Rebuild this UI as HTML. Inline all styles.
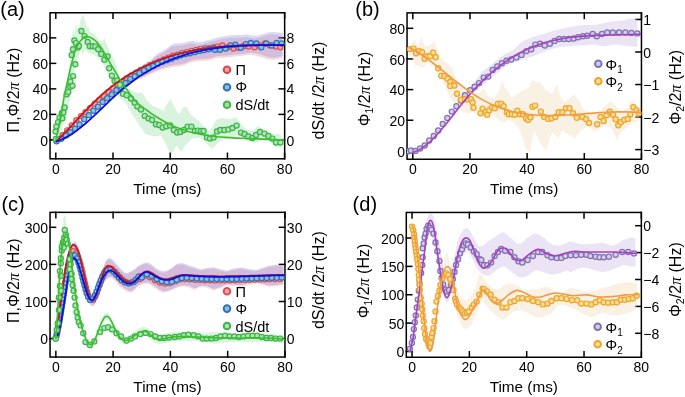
<!DOCTYPE html><html><head><meta charset="utf-8"><style>html,body{margin:0;padding:0;background:#fff;}svg{display:block;will-change:transform}text{font-family:"Liberation Sans", sans-serif;}</style></head><body>
<svg width="685" height="397" viewBox="0 0 685 397">
<g stroke="#000" stroke-width="1.5" stroke-linecap="square" fill="none"><line x1="55.80" y1="158.80" x2="55.80" y2="153.30"/><line x1="55.80" y1="12.77" x2="55.80" y2="18.27"/><line x1="113.01" y1="158.80" x2="113.01" y2="153.30"/><line x1="113.01" y1="12.77" x2="113.01" y2="18.27"/><line x1="170.22" y1="158.80" x2="170.22" y2="153.30"/><line x1="170.22" y1="12.77" x2="170.22" y2="18.27"/><line x1="227.44" y1="158.80" x2="227.44" y2="153.30"/><line x1="227.44" y1="12.77" x2="227.44" y2="18.27"/><line x1="284.65" y1="158.80" x2="284.65" y2="153.30"/><line x1="284.65" y1="12.77" x2="284.65" y2="18.27"/><line x1="50.05" y1="139.90" x2="55.55" y2="139.90"/><line x1="50.05" y1="114.39" x2="55.55" y2="114.39"/><line x1="50.05" y1="88.88" x2="55.55" y2="88.88"/><line x1="50.05" y1="63.37" x2="55.55" y2="63.37"/><line x1="50.05" y1="37.86" x2="55.55" y2="37.86"/><line x1="284.65" y1="139.90" x2="279.15" y2="139.90"/><line x1="284.65" y1="114.39" x2="279.15" y2="114.39"/><line x1="284.65" y1="88.88" x2="279.15" y2="88.88"/><line x1="284.65" y1="63.37" x2="279.15" y2="63.37"/><line x1="284.65" y1="37.86" x2="279.15" y2="37.86"/><rect x="50.05" y="12.77" width="234.60" height="146.03" fill="none"/></g>
<g font-size="14" fill="#000"><text x="55.80" y="173.50" text-anchor="middle">0</text><text x="113.01" y="173.50" text-anchor="middle">20</text><text x="170.22" y="173.50" text-anchor="middle">40</text><text x="227.44" y="173.50" text-anchor="middle">60</text><text x="284.65" y="173.50" text-anchor="middle">80</text><text x="48.05" y="145.50" text-anchor="end">0</text><text x="48.05" y="119.99" text-anchor="end">20</text><text x="48.05" y="94.48" text-anchor="end">40</text><text x="48.05" y="68.97" text-anchor="end">60</text><text x="48.05" y="43.46" text-anchor="end">80</text><text x="286.55" y="145.50">0</text><text x="286.55" y="119.99">2</text><text x="286.55" y="94.48">4</text><text x="286.55" y="68.97">6</text><text x="286.55" y="43.46">8</text></g>
<g stroke="#000" stroke-width="1.5" stroke-linecap="square" fill="none"><line x1="412.80" y1="159.25" x2="412.80" y2="153.75"/><line x1="412.80" y1="12.90" x2="412.80" y2="18.40"/><line x1="469.96" y1="159.25" x2="469.96" y2="153.75"/><line x1="469.96" y1="12.90" x2="469.96" y2="18.40"/><line x1="527.12" y1="159.25" x2="527.12" y2="153.75"/><line x1="527.12" y1="12.90" x2="527.12" y2="18.40"/><line x1="584.29" y1="159.25" x2="584.29" y2="153.75"/><line x1="584.29" y1="12.90" x2="584.29" y2="18.40"/><line x1="641.45" y1="159.25" x2="641.45" y2="153.75"/><line x1="641.45" y1="12.90" x2="641.45" y2="18.40"/><line x1="407.05" y1="150.90" x2="412.55" y2="150.90"/><line x1="407.05" y1="120.25" x2="412.55" y2="120.25"/><line x1="407.05" y1="89.60" x2="412.55" y2="89.60"/><line x1="407.05" y1="58.95" x2="412.55" y2="58.95"/><line x1="407.05" y1="28.30" x2="412.55" y2="28.30"/><line x1="641.45" y1="19.47" x2="635.95" y2="19.47"/><line x1="641.45" y1="52.00" x2="635.95" y2="52.00"/><line x1="641.45" y1="84.53" x2="635.95" y2="84.53"/><line x1="641.45" y1="117.06" x2="635.95" y2="117.06"/><line x1="641.45" y1="149.59" x2="635.95" y2="149.59"/><rect x="407.05" y="12.90" width="234.40" height="146.35" fill="none"/></g>
<g font-size="14" fill="#000"><text x="412.80" y="173.95" text-anchor="middle">0</text><text x="469.96" y="173.95" text-anchor="middle">20</text><text x="527.12" y="173.95" text-anchor="middle">40</text><text x="584.29" y="173.95" text-anchor="middle">60</text><text x="641.45" y="173.95" text-anchor="middle">80</text><text x="405.05" y="156.50" text-anchor="end">0</text><text x="405.05" y="125.85" text-anchor="end">20</text><text x="405.05" y="95.20" text-anchor="end">40</text><text x="405.05" y="64.55" text-anchor="end">60</text><text x="405.05" y="33.90" text-anchor="end">80</text><text x="643.35" y="25.07">1</text><text x="643.35" y="57.60">0</text><text x="643.35" y="90.13">−1</text><text x="643.35" y="122.66">−2</text><text x="643.35" y="155.19">−3</text></g>
<g stroke="#000" stroke-width="1.5" stroke-linecap="square" fill="none"><line x1="55.85" y1="357.05" x2="55.85" y2="351.55"/><line x1="55.85" y1="212.35" x2="55.85" y2="217.85"/><line x1="113.12" y1="357.05" x2="113.12" y2="351.55"/><line x1="113.12" y1="212.35" x2="113.12" y2="217.85"/><line x1="170.40" y1="357.05" x2="170.40" y2="351.55"/><line x1="170.40" y1="212.35" x2="170.40" y2="217.85"/><line x1="227.67" y1="357.05" x2="227.67" y2="351.55"/><line x1="227.67" y1="212.35" x2="227.67" y2="217.85"/><line x1="284.95" y1="357.05" x2="284.95" y2="351.55"/><line x1="284.95" y1="212.35" x2="284.95" y2="217.85"/><line x1="50.05" y1="338.60" x2="55.55" y2="338.60"/><line x1="50.05" y1="301.50" x2="55.55" y2="301.50"/><line x1="50.05" y1="264.40" x2="55.55" y2="264.40"/><line x1="50.05" y1="227.30" x2="55.55" y2="227.30"/><line x1="284.95" y1="338.60" x2="279.45" y2="338.60"/><line x1="284.95" y1="301.50" x2="279.45" y2="301.50"/><line x1="284.95" y1="264.40" x2="279.45" y2="264.40"/><line x1="284.95" y1="227.30" x2="279.45" y2="227.30"/><rect x="50.05" y="212.35" width="234.90" height="144.70" fill="none"/></g>
<g font-size="14" fill="#000"><text x="55.85" y="371.75" text-anchor="middle">0</text><text x="113.12" y="371.75" text-anchor="middle">20</text><text x="170.40" y="371.75" text-anchor="middle">40</text><text x="227.67" y="371.75" text-anchor="middle">60</text><text x="284.95" y="371.75" text-anchor="middle">80</text><text x="48.05" y="344.20" text-anchor="end">0</text><text x="48.05" y="307.10" text-anchor="end">100</text><text x="48.05" y="270.00" text-anchor="end">200</text><text x="48.05" y="232.90" text-anchor="end">300</text><text x="286.85" y="344.20">0</text><text x="286.85" y="307.10">10</text><text x="286.85" y="270.00">20</text><text x="286.85" y="232.90">30</text></g>
<g stroke="#000" stroke-width="1.5" stroke-linecap="square" fill="none"><line x1="412.05" y1="357.25" x2="412.05" y2="351.75"/><line x1="412.05" y1="212.45" x2="412.05" y2="217.95"/><line x1="469.38" y1="357.25" x2="469.38" y2="351.75"/><line x1="469.38" y1="212.45" x2="469.38" y2="217.95"/><line x1="526.70" y1="357.25" x2="526.70" y2="351.75"/><line x1="526.70" y1="212.45" x2="526.70" y2="217.95"/><line x1="584.02" y1="357.25" x2="584.02" y2="351.75"/><line x1="584.02" y1="212.45" x2="584.02" y2="217.95"/><line x1="641.35" y1="357.25" x2="641.35" y2="351.75"/><line x1="641.35" y1="212.45" x2="641.35" y2="217.95"/><line x1="406.30" y1="351.50" x2="411.80" y2="351.50"/><line x1="406.30" y1="323.12" x2="411.80" y2="323.12"/><line x1="406.30" y1="294.75" x2="411.80" y2="294.75"/><line x1="406.30" y1="266.38" x2="411.80" y2="266.38"/><line x1="406.30" y1="238.00" x2="411.80" y2="238.00"/><line x1="641.35" y1="225.70" x2="635.85" y2="225.70"/><line x1="641.35" y1="252.60" x2="635.85" y2="252.60"/><line x1="641.35" y1="279.50" x2="635.85" y2="279.50"/><line x1="641.35" y1="306.40" x2="635.85" y2="306.40"/><line x1="641.35" y1="333.30" x2="635.85" y2="333.30"/><rect x="406.30" y="212.45" width="235.05" height="144.80" fill="none"/></g>
<g font-size="14" fill="#000"><text x="412.05" y="371.95" text-anchor="middle">0</text><text x="469.38" y="371.95" text-anchor="middle">20</text><text x="526.70" y="371.95" text-anchor="middle">40</text><text x="584.02" y="371.95" text-anchor="middle">60</text><text x="641.35" y="371.95" text-anchor="middle">80</text><text x="404.30" y="357.10" text-anchor="end">0</text><text x="404.30" y="328.73" text-anchor="end">50</text><text x="404.30" y="300.35" text-anchor="end">100</text><text x="404.30" y="271.98" text-anchor="end">150</text><text x="404.30" y="243.60" text-anchor="end">200</text><text x="643.25" y="231.30">0</text><text x="643.25" y="258.20">−2</text><text x="643.25" y="285.10">−4</text><text x="643.25" y="312.00">−6</text><text x="643.25" y="338.90">−8</text></g>
<text x="167.35" y="193.70" text-anchor="middle" font-size="15.3">Time (ms)</text>
<text x="524.25" y="194.15" text-anchor="middle" font-size="15.3">Time (ms)</text>
<text x="167.50" y="391.95" text-anchor="middle" font-size="15.3">Time (ms)</text>
<text x="523.83" y="392.15" text-anchor="middle" font-size="15.3">Time (ms)</text>
<text transform="translate(19.0,90) rotate(-90)" text-anchor="middle" font-size="16">Π,Φ/2<tspan font-family="Liberation Serif" font-style="italic">π</tspan> (Hz)</text>
<text transform="translate(324.0,90.5) rotate(-90)" text-anchor="middle" font-size="16">dS/dt /2<tspan font-family="Liberation Serif" font-style="italic">π</tspan> (Hz)</text>
<text transform="translate(369.5,89) rotate(-90)" text-anchor="middle" font-size="16">Φ<tspan font-size="10.5" dy="3.2">1</tspan><tspan dy="-3.2">/2</tspan><tspan font-family="Liberation Serif" font-style="italic">π</tspan><tspan> (Hz)</tspan></text>
<text transform="translate(680.6,87.3) rotate(-90)" text-anchor="middle" font-size="16">Φ<tspan font-size="10.5" dy="3.2">2</tspan><tspan dy="-3.2">/2</tspan><tspan font-family="Liberation Serif" font-style="italic">π</tspan><tspan> (Hz)</tspan></text>
<text transform="translate(18.7,280.7) rotate(-90)" text-anchor="middle" font-size="16">Π,Φ/2<tspan font-family="Liberation Serif" font-style="italic">π</tspan> (Hz)</text>
<text transform="translate(324.0,280.2) rotate(-90)" text-anchor="middle" font-size="16">dS/dt /2<tspan font-family="Liberation Serif" font-style="italic">π</tspan> (Hz)</text>
<text transform="translate(369.2,281) rotate(-90)" text-anchor="middle" font-size="16">Φ<tspan font-size="10.5" dy="3.2">1</tspan><tspan dy="-3.2">/2</tspan><tspan font-family="Liberation Serif" font-style="italic">π</tspan><tspan> (Hz)</tspan></text>
<text transform="translate(680.8,279.6) rotate(-90)" text-anchor="middle" font-size="16">Φ<tspan font-size="10.5" dy="3.2">2</tspan><tspan dy="-3.2">/2</tspan><tspan font-family="Liberation Serif" font-style="italic">π</tspan><tspan> (Hz)</tspan></text>
<text x="0.3" y="16.0" font-size="20">(a)</text>
<text x="355.3" y="16.0" font-size="20">(b)</text>
<text x="1.4" y="211.2" font-size="20">(c)</text>
<text x="352.6" y="211.2" font-size="20">(d)</text>
<clipPath id="ca"><rect x="50.05" y="12.77" width="234.6" height="146.03"/></clipPath>
<g clip-path="url(#ca)">
<path d="M55.80,132.00 L58.00,124.00 L60.00,112.00 L62.00,104.00 L64.00,92.00 L66.00,82.00 L68.00,74.00 L70.00,60.00 L71.50,40.00 L73.20,28.00 L74.50,34.00 L76.20,23.00 L77.50,30.00 L79.00,26.00 L80.50,20.00 L83.00,14.50 L85.00,20.00 L86.80,28.00 L88.50,26.00 L90.00,32.00 L93.00,33.00 L95.80,36.00 L99.00,40.00 L102.00,42.00 L104.50,38.00 L107.00,45.00 L110.00,52.00 L113.00,57.00 L116.00,64.00 L119.00,74.00 L123.30,87.70 L128.00,88.00 L132.20,91.10 L138.80,93.30 L142.20,92.20 L146.60,99.90 L152.10,105.50 L157.70,107.70 L163.20,111.00 L167.60,103.30 L170.30,98.80 L174.30,106.60 L178.70,114.30 L183.20,107.70 L186.50,106.60 L189.80,113.20 L194.30,117.70 L198.70,121.00 L203.10,125.40 L208.70,131.00 L212.00,128.00 L216.00,120.00 L222.00,118.00 L230.00,119.00 L236.00,117.00 L240.00,123.00 L246.00,129.00 L252.00,131.00 L258.00,126.00 L264.00,130.00 L270.00,133.00 L278.00,134.00 L281.00,135.00 L281.00,149.00 L274.00,145.00 L268.00,141.00 L262.00,140.00 L256.00,143.00 L250.00,142.00 L244.00,139.00 L238.00,135.00 L230.00,138.00 L224.00,139.00 L218.00,143.00 L212.00,149.00 L206.00,143.00 L200.00,138.00 L192.00,138.50 L185.40,145.40 L181.00,152.00 L176.50,145.40 L171.00,155.40 L166.50,145.40 L161.00,135.40 L154.30,136.50 L145.50,134.30 L141.00,127.60 L136.60,121.00 L132.20,114.30 L127.00,105.00 L123.30,101.00 L120.00,98.00 L116.00,92.00 L112.00,82.00 L108.00,74.00 L104.00,66.00 L100.00,60.00 L96.00,56.00 L92.00,54.00 L88.00,53.00 L85.00,49.00 L83.00,55.00 L81.00,50.00 L79.00,55.00 L77.00,60.00 L75.00,68.00 L73.00,80.00 L71.00,95.00 L68.00,110.00 L64.00,122.00 L60.00,135.00 L57.00,141.00 L55.80,141.00Z" fill="rgb(80,200,110)" fill-opacity="0.22"/>
<path d="M140.00,69.50C140.83,68.83 143.33,66.67 145.00,65.50C146.67,64.33 148.17,64.00 150.00,62.50C151.83,61.00 153.50,58.33 156.00,56.50C158.50,54.67 162.33,53.17 165.00,51.50C167.67,49.83 169.33,47.50 172.00,46.50C174.67,45.50 177.83,46.00 181.00,45.50C184.17,45.00 188.00,43.67 191.00,43.50C194.00,43.33 196.17,44.67 199.00,44.50C201.83,44.33 205.00,43.23 208.00,42.50C211.00,41.77 213.83,40.82 217.00,40.10C220.17,39.38 223.17,38.62 227.00,38.20C230.83,37.78 236.83,37.80 240.00,37.60C243.17,37.40 243.33,36.90 246.00,37.00C248.67,37.10 252.50,38.52 256.00,38.20C259.50,37.88 264.00,35.72 267.00,35.10C270.00,34.48 271.50,34.38 274.00,34.50C276.50,34.62 280.67,35.58 282.00,35.80L282.00,58.00C280.33,58.30 275.33,59.90 272.00,59.80C268.67,59.70 265.33,58.22 262.00,57.40C258.67,56.58 255.67,55.12 252.00,54.90C248.33,54.68 244.17,55.68 240.00,56.10C235.83,56.52 230.83,57.08 227.00,57.40C223.17,57.72 220.17,57.48 217.00,58.00C213.83,58.52 211.00,59.98 208.00,60.50C205.00,61.02 201.83,60.78 199.00,61.10C196.17,61.42 194.00,61.57 191.00,62.40C188.00,63.23 184.17,65.28 181.00,66.10C177.83,66.92 175.17,66.68 172.00,67.30C168.83,67.92 165.67,68.57 162.00,69.80C158.33,71.03 153.67,73.08 150.00,74.70C146.33,76.32 141.67,78.70 140.00,79.50Z" fill="rgb(230,120,120)" fill-opacity="0.28"/>
<path d="M141.00,67.00C141.83,66.33 144.33,64.17 146.00,63.00C147.67,61.83 149.17,61.50 151.00,60.00C152.83,58.50 154.50,55.83 157.00,54.00C159.50,52.17 163.33,50.67 166.00,49.00C168.67,47.33 170.33,45.00 173.00,44.00C175.67,43.00 178.83,43.50 182.00,43.00C185.17,42.50 189.00,41.17 192.00,41.00C195.00,40.83 197.17,42.17 200.00,42.00C202.83,41.83 206.00,40.73 209.00,40.00C212.00,39.27 214.83,38.32 218.00,37.60C221.17,36.88 224.17,36.12 228.00,35.70C231.83,35.28 237.83,35.30 241.00,35.10C244.17,34.90 244.33,34.40 247.00,34.50C249.67,34.60 253.50,36.02 257.00,35.70C260.50,35.38 265.00,33.22 268.00,32.60C271.00,31.98 272.50,31.88 275.00,32.00C277.50,32.12 281.67,33.08 283.00,33.30L283.00,56.00C281.33,56.30 276.33,57.90 273.00,57.80C269.67,57.70 266.33,56.22 263.00,55.40C259.67,54.58 256.67,53.12 253.00,52.90C249.33,52.68 245.17,53.68 241.00,54.10C236.83,54.52 231.83,55.08 228.00,55.40C224.17,55.72 221.17,55.48 218.00,56.00C214.83,56.52 212.00,57.98 209.00,58.50C206.00,59.02 202.83,58.78 200.00,59.10C197.17,59.42 195.00,59.57 192.00,60.40C189.00,61.23 185.17,63.28 182.00,64.10C178.83,64.92 176.17,64.68 173.00,65.30C169.83,65.92 166.67,66.57 163.00,67.80C159.33,69.03 154.67,71.08 151.00,72.70C147.33,74.32 142.67,76.70 141.00,77.50Z" fill="rgb(120,120,230)" fill-opacity="0.28"/>
<g stroke="rgb(220,80,85)" stroke-width="1.2" fill="rgb(242,165,168)"><circle cx="58.00" cy="139.34" r="2.6"/><circle cx="62.60" cy="135.20" r="2.6"/><circle cx="67.20" cy="130.36" r="2.6"/><circle cx="71.80" cy="125.33" r="2.6"/><circle cx="76.40" cy="120.28" r="2.6"/><circle cx="81.00" cy="116.10" r="2.6"/><circle cx="85.60" cy="112.29" r="2.6"/><circle cx="90.20" cy="107.84" r="2.6"/><circle cx="94.80" cy="103.74" r="2.6"/><circle cx="99.40" cy="99.89" r="2.6"/><circle cx="104.00" cy="96.09" r="2.6"/><circle cx="108.60" cy="92.01" r="2.6"/><circle cx="113.20" cy="88.16" r="2.6"/><circle cx="117.80" cy="84.79" r="2.6"/><circle cx="122.40" cy="81.63" r="2.6"/><circle cx="127.00" cy="78.29" r="2.6"/><circle cx="131.60" cy="75.34" r="2.6"/><circle cx="136.20" cy="72.82" r="2.6"/><circle cx="140.80" cy="69.88" r="2.6"/><circle cx="145.40" cy="67.72" r="2.6"/><circle cx="150.00" cy="65.28" r="2.6"/><circle cx="154.60" cy="63.37" r="2.6"/><circle cx="159.20" cy="61.35" r="2.6"/><circle cx="163.80" cy="59.39" r="2.6"/><circle cx="168.40" cy="57.60" r="2.6"/><circle cx="173.00" cy="55.78" r="2.6"/><circle cx="177.60" cy="54.63" r="2.6"/><circle cx="182.20" cy="53.10" r="2.6"/><circle cx="186.80" cy="52.12" r="2.6"/><circle cx="191.40" cy="50.87" r="2.6"/><circle cx="196.00" cy="50.00" r="2.6"/><circle cx="200.60" cy="48.86" r="2.6"/><circle cx="205.20" cy="48.30" r="2.6"/><circle cx="209.80" cy="48.26" r="2.6"/><circle cx="214.40" cy="47.13" r="2.6"/><circle cx="217.50" cy="46.60" r="2.6"/><circle cx="222.40" cy="45.40" r="2.6"/><circle cx="228.00" cy="47.20" r="2.6"/><circle cx="233.50" cy="48.50" r="2.6"/><circle cx="238.50" cy="47.80" r="2.6"/><circle cx="243.40" cy="46.00" r="2.6"/><circle cx="248.30" cy="46.60" r="2.6"/><circle cx="254.50" cy="47.20" r="2.6"/><circle cx="259.40" cy="45.40" r="2.6"/><circle cx="265.00" cy="43.50" r="2.6"/><circle cx="269.90" cy="45.40" r="2.6"/><circle cx="275.50" cy="46.60" r="2.6"/><circle cx="280.40" cy="47.20" r="2.6"/></g>
<g stroke="rgb(50,115,180)" stroke-width="1.2" fill="rgb(140,190,225)"><circle cx="56.60" cy="141.19" r="2.6"/><circle cx="61.20" cy="138.75" r="2.6"/><circle cx="65.80" cy="135.39" r="2.6"/><circle cx="70.40" cy="132.28" r="2.6"/><circle cx="75.00" cy="128.74" r="2.6"/><circle cx="79.60" cy="124.40" r="2.6"/><circle cx="84.20" cy="119.13" r="2.6"/><circle cx="88.80" cy="115.13" r="2.6"/><circle cx="93.40" cy="110.80" r="2.6"/><circle cx="98.00" cy="106.77" r="2.6"/><circle cx="102.60" cy="102.04" r="2.6"/><circle cx="107.20" cy="98.21" r="2.6"/><circle cx="111.80" cy="94.40" r="2.6"/><circle cx="116.40" cy="90.26" r="2.6"/><circle cx="121.00" cy="86.79" r="2.6"/><circle cx="125.60" cy="83.03" r="2.6"/><circle cx="130.20" cy="79.10" r="2.6"/><circle cx="134.80" cy="76.27" r="2.6"/><circle cx="139.40" cy="73.03" r="2.6"/><circle cx="144.00" cy="70.37" r="2.6"/><circle cx="148.60" cy="67.77" r="2.6"/><circle cx="153.20" cy="66.03" r="2.6"/><circle cx="157.80" cy="63.86" r="2.6"/><circle cx="162.40" cy="61.71" r="2.6"/><circle cx="167.00" cy="60.26" r="2.6"/><circle cx="171.60" cy="58.81" r="2.6"/><circle cx="176.20" cy="56.83" r="2.6"/><circle cx="180.80" cy="55.31" r="2.6"/><circle cx="185.40" cy="54.12" r="2.6"/><circle cx="190.00" cy="53.28" r="2.6"/><circle cx="194.60" cy="52.16" r="2.6"/><circle cx="199.20" cy="50.89" r="2.6"/><circle cx="203.80" cy="50.16" r="2.6"/><circle cx="208.40" cy="49.31" r="2.6"/><circle cx="213.00" cy="48.24" r="2.6"/><circle cx="215.00" cy="49.70" r="2.6"/><circle cx="220.00" cy="49.70" r="2.6"/><circle cx="225.50" cy="48.50" r="2.6"/><circle cx="230.40" cy="45.40" r="2.6"/><circle cx="235.40" cy="44.80" r="2.6"/><circle cx="240.90" cy="47.80" r="2.6"/><circle cx="245.90" cy="44.10" r="2.6"/><circle cx="250.80" cy="42.90" r="2.6"/><circle cx="256.40" cy="43.50" r="2.6"/><circle cx="261.30" cy="47.20" r="2.6"/><circle cx="266.20" cy="43.50" r="2.6"/><circle cx="271.80" cy="45.40" r="2.6"/><circle cx="276.70" cy="42.90" r="2.6"/><circle cx="281.70" cy="43.50" r="2.6"/></g>
<g stroke="rgb(60,180,70)" stroke-width="1.2" fill="rgb(170,228,178)"><circle cx="55.80" cy="139.00" r="2.6"/><circle cx="55.60" cy="131.50" r="2.6"/><circle cx="56.40" cy="126.40" r="2.6"/><circle cx="58.10" cy="122.10" r="2.6"/><circle cx="59.60" cy="117.40" r="2.6"/><circle cx="62.40" cy="118.20" r="2.6"/><circle cx="61.80" cy="113.10" r="2.6"/><circle cx="63.30" cy="112.50" r="2.6"/><circle cx="64.60" cy="107.50" r="2.6"/><circle cx="66.70" cy="94.30" r="2.6"/><circle cx="68.20" cy="92.10" r="2.6"/><circle cx="70.30" cy="86.80" r="2.6"/><circle cx="72.50" cy="85.70" r="2.6"/><circle cx="70.30" cy="81.40" r="2.6"/><circle cx="73.10" cy="76.10" r="2.6"/><circle cx="75.30" cy="64.30" r="2.6"/><circle cx="71.60" cy="55.10" r="2.6"/><circle cx="73.00" cy="49.20" r="2.6"/><circle cx="74.40" cy="40.50" r="2.6"/><circle cx="76.00" cy="43.10" r="2.6"/><circle cx="77.80" cy="47.50" r="2.6"/><circle cx="78.90" cy="46.00" r="2.6"/><circle cx="81.40" cy="31.00" r="2.6"/><circle cx="84.60" cy="36.10" r="2.6"/><circle cx="87.70" cy="41.90" r="2.6"/><circle cx="89.80" cy="46.30" r="2.6"/><circle cx="92.70" cy="46.30" r="2.6"/><circle cx="95.30" cy="46.60" r="2.6"/><circle cx="98.20" cy="49.20" r="2.6"/><circle cx="101.20" cy="53.90" r="2.6"/><circle cx="104.40" cy="59.80" r="2.6"/><circle cx="107.50" cy="56.50" r="2.6"/><circle cx="109.20" cy="68.20" r="2.6"/><circle cx="111.90" cy="75.80" r="2.6"/><circle cx="114.60" cy="81.00" r="2.6"/><circle cx="117.20" cy="80.50" r="2.6"/><circle cx="119.90" cy="84.80" r="2.6"/><circle cx="123.00" cy="93.70" r="2.6"/><circle cx="126.70" cy="95.30" r="2.6"/><circle cx="131.00" cy="98.50" r="2.6"/><circle cx="134.70" cy="102.70" r="2.6"/><circle cx="137.30" cy="106.60" r="2.6"/><circle cx="141.00" cy="109.60" r="2.6"/><circle cx="144.80" cy="115.90" r="2.6"/><circle cx="148.60" cy="118.40" r="2.6"/><circle cx="152.10" cy="120.00" r="2.6"/><circle cx="155.90" cy="124.20" r="2.6"/><circle cx="159.30" cy="125.00" r="2.6"/><circle cx="162.60" cy="127.60" r="2.6"/><circle cx="166.30" cy="126.20" r="2.6"/><circle cx="170.10" cy="125.40" r="2.6"/><circle cx="173.80" cy="130.00" r="2.6"/><circle cx="177.20" cy="132.60" r="2.6"/><circle cx="180.40" cy="132.00" r="2.6"/><circle cx="184.00" cy="130.00" r="2.6"/><circle cx="187.60" cy="126.60" r="2.6"/><circle cx="191.40" cy="126.60" r="2.6"/><circle cx="195.00" cy="131.00" r="2.6"/><circle cx="198.00" cy="130.60" r="2.6"/><circle cx="201.00" cy="131.00" r="2.6"/><circle cx="203.60" cy="131.00" r="2.6"/><circle cx="207.00" cy="137.40" r="2.6"/><circle cx="210.00" cy="138.60" r="2.6"/><circle cx="213.60" cy="137.40" r="2.6"/><circle cx="217.00" cy="131.40" r="2.6"/><circle cx="220.40" cy="130.00" r="2.6"/><circle cx="224.40" cy="130.00" r="2.6"/><circle cx="228.40" cy="129.40" r="2.6"/><circle cx="232.40" cy="128.00" r="2.6"/><circle cx="236.60" cy="125.60" r="2.6"/><circle cx="241.00" cy="132.60" r="2.6"/><circle cx="244.60" cy="134.00" r="2.6"/><circle cx="248.40" cy="136.40" r="2.6"/><circle cx="252.40" cy="138.00" r="2.6"/><circle cx="256.00" cy="135.00" r="2.6"/><circle cx="260.00" cy="132.00" r="2.6"/><circle cx="264.40" cy="133.60" r="2.6"/><circle cx="268.40" cy="136.00" r="2.6"/><circle cx="272.40" cy="138.60" r="2.6"/><circle cx="276.00" cy="142.60" r="2.6"/><circle cx="280.40" cy="142.60" r="2.6"/></g>
<path d="M55.80,141.78C56.78,140.82 59.71,137.99 61.67,136.02C63.62,134.05 65.58,132.01 67.53,129.96C69.49,127.91 71.44,125.81 73.40,123.72C75.36,121.63 77.31,119.52 79.27,117.43C81.22,115.34 83.18,113.23 85.13,111.18C87.09,109.13 89.04,107.08 91.00,105.11C92.96,103.13 94.91,101.18 96.87,99.31C98.82,97.44 100.78,95.64 102.73,93.91C104.69,92.18 106.64,90.53 108.60,88.94C110.56,87.35 112.51,85.84 114.47,84.39C116.42,82.93 118.38,81.54 120.33,80.21C122.29,78.88 124.24,77.61 126.20,76.38C128.16,75.16 130.11,74.00 132.07,72.87C134.02,71.75 135.98,70.68 137.93,69.65C139.89,68.62 141.84,67.64 143.80,66.69C145.76,65.75 147.71,64.84 149.67,63.98C151.62,63.12 153.58,62.29 155.53,61.50C157.49,60.72 159.44,59.97 161.40,59.25C163.36,58.54 165.31,57.86 167.27,57.22C169.22,56.58 171.18,55.97 173.13,55.39C175.09,54.81 177.04,54.27 179.00,53.75C180.96,53.24 182.91,52.75 184.87,52.30C186.82,51.84 188.78,51.41 190.73,51.01C192.69,50.61 194.64,50.24 196.60,49.89C198.56,49.54 200.51,49.21 202.47,48.91C204.42,48.61 206.38,48.33 208.33,48.08C210.29,47.82 212.24,47.58 214.20,47.37C216.16,47.15 218.11,46.95 220.07,46.77C222.02,46.59 223.98,46.43 225.93,46.29C227.89,46.14 229.84,46.01 231.80,45.89C233.76,45.77 235.71,45.67 237.67,45.58C239.62,45.49 241.58,45.41 243.53,45.34C245.49,45.28 247.44,45.22 249.40,45.17C251.36,45.12 253.31,45.08 255.27,45.04C257.22,45.01 259.18,44.98 261.13,44.96C263.09,44.93 265.04,44.92 267.00,44.90C268.96,44.88 270.91,44.87 272.87,44.86C274.82,44.85 276.78,44.84 278.73,44.83C280.69,44.81 283.62,44.80 284.60,44.79" stroke="rgb(195,25,25)" stroke-width="1.8" fill="none"/>
<path d="M55.80,141.53C56.78,141.19 59.71,140.34 61.67,139.52C63.62,138.70 65.58,137.71 67.53,136.62C69.49,135.52 71.44,134.27 73.40,132.94C75.36,131.61 77.31,130.15 79.27,128.62C81.22,127.10 83.18,125.47 85.13,123.79C87.09,122.12 89.04,120.36 91.00,118.58C92.96,116.79 94.91,114.95 96.87,113.10C98.82,111.25 100.78,109.36 102.73,107.49C104.69,105.62 106.64,103.73 108.60,101.88C110.56,100.03 112.51,98.18 114.47,96.39C116.42,94.60 118.38,92.84 120.33,91.16C122.29,89.47 124.24,87.84 126.20,86.27C128.16,84.70 130.11,83.20 132.07,81.74C134.02,80.29 135.98,78.90 137.93,77.56C139.89,76.22 141.84,74.94 143.80,73.71C145.76,72.48 147.71,71.30 149.67,70.17C151.62,69.05 153.58,67.97 155.53,66.94C157.49,65.91 159.44,64.94 161.40,64.00C163.36,63.07 165.31,62.18 167.27,61.34C169.22,60.49 171.18,59.69 173.13,58.93C175.09,58.17 177.04,57.46 179.00,56.78C180.96,56.10 182.91,55.46 184.87,54.86C186.82,54.26 188.78,53.69 190.73,53.16C192.69,52.63 194.64,52.14 196.60,51.68C198.56,51.21 200.51,50.78 202.47,50.38C204.42,49.98 206.38,49.61 208.33,49.27C210.29,48.93 212.24,48.61 214.20,48.33C216.16,48.04 218.11,47.78 220.07,47.54C222.02,47.30 223.98,47.08 225.93,46.89C227.89,46.69 229.84,46.52 231.80,46.36C233.76,46.21 235.71,46.07 237.67,45.95C239.62,45.83 241.58,45.73 243.53,45.64C245.49,45.55 247.44,45.48 249.40,45.42C251.36,45.36 253.31,45.31 255.27,45.27C257.22,45.23 259.18,45.20 261.13,45.18C263.09,45.15 265.04,45.14 267.00,45.13C268.96,45.12 270.91,45.12 272.87,45.12C274.82,45.11 276.78,45.12 278.73,45.12C280.69,45.12 283.62,45.13 284.60,45.13" stroke="rgb(15,15,225)" stroke-width="1.8" fill="none"/>
<path d="M55.80,139.90C56.52,136.65 58.72,127.55 60.10,120.40C61.48,113.25 62.75,103.98 64.10,97.00C65.45,90.02 66.97,84.00 68.20,78.50C69.43,73.00 70.27,68.83 71.50,64.00C72.73,59.17 74.32,53.08 75.60,49.50C76.88,45.92 77.50,44.65 79.20,42.50C80.90,40.35 83.35,37.10 85.80,36.60C88.25,36.10 91.33,37.63 93.90,39.50C96.47,41.37 98.80,44.38 101.20,47.80C103.60,51.22 106.12,56.30 108.30,60.00C110.48,63.70 112.57,67.08 114.30,70.00C116.03,72.92 116.63,74.25 118.70,77.50C120.77,80.75 123.73,85.42 126.70,89.50C129.67,93.58 132.62,98.15 136.50,102.00C140.38,105.85 146.58,110.05 150.00,112.60C153.42,115.15 153.67,115.30 157.00,117.30C160.33,119.30 165.70,122.55 170.00,124.60C174.30,126.65 179.47,128.37 182.80,129.60C186.13,130.83 185.47,130.93 190.00,132.00C194.53,133.07 203.33,135.07 210.00,136.00C216.67,136.93 223.33,137.17 230.00,137.60C236.67,138.03 243.33,138.30 250.00,138.60C256.67,138.90 264.23,139.17 270.00,139.40C275.77,139.63 282.17,139.90 284.60,140.00" stroke="rgb(60,190,45)" stroke-width="1.6" fill="none"/>
</g>
<circle cx="227" cy="69.7" r="3.3" stroke="rgb(215,70,80)" stroke-width="2.0" fill="rgb(240,160,165)"/><text x="235.5" y="74.9" font-size="14.5">Π</text><circle cx="227" cy="87.2" r="3.3" stroke="rgb(50,115,180)" stroke-width="2.0" fill="rgb(140,190,225)"/><text x="235.5" y="92.4" font-size="14.5">Φ</text><circle cx="227" cy="104.7" r="3.3" stroke="rgb(70,180,75)" stroke-width="2.0" fill="rgb(165,220,165)"/><text x="235.5" y="109.9" font-size="14.5">dS/dt</text>
<clipPath id="cb"><rect x="407.05" y="12.9" width="234.4" height="146.35"/></clipPath>
<g clip-path="url(#cb)">
<path d="M408.50,47.00 L411.00,44.00 L413.00,42.00 L415.00,39.00 L417.50,46.00 L419.00,44.00 L421.60,35.50 L424.00,45.00 L426.00,46.00 L428.50,46.00 L431.20,44.00 L434.20,40.60 L437.20,48.70 L439.00,55.00 L441.80,59.30 L446.30,62.30 L452.30,68.40 L456.90,80.50 L461.40,83.50 L467.50,89.50 L473.50,94.10 L479.60,92.60 L484.10,88.00 L488.60,97.10 L494.70,98.60 L499.20,89.50 L502.20,80.50 L505.00,88.00 L508.30,91.00 L511.30,98.60 L515.80,95.60 L520.00,92.10 L524.00,90.00 L528.00,88.00 L532.00,80.00 L536.00,82.00 L540.00,82.00 L546.00,90.00 L552.00,94.00 L557.00,84.00 L560.00,96.00 L564.00,102.00 L570.00,98.00 L574.00,94.00 L580.00,102.00 L584.50,110.00 L592.50,114.00 L600.60,110.00 L606.60,104.00 L611.70,101.00 L614.70,105.00 L620.80,112.00 L626.80,108.00 L631.80,100.00 L635.90,104.00 L639.00,110.00 L639.00,120.30 L634.90,122.30 L628.80,126.30 L620.80,132.40 L616.70,140.50 L612.70,130.40 L606.60,125.30 L600.60,128.40 L594.60,131.40 L586.50,126.30 L580.50,130.40 L574.40,138.40 L568.40,134.40 L562.30,130.40 L558.30,138.40 L552.00,132.40 L546.00,150.50 L540.00,142.50 L534.00,130.40 L530.00,152.50 L526.00,148.50 L520.00,130.40 L515.80,124.30 L509.80,119.80 L503.70,122.80 L497.70,119.80 L491.60,112.20 L485.60,118.20 L479.60,116.70 L473.50,112.20 L467.50,113.70 L461.40,110.70 L455.40,106.20 L449.30,95.60 L443.30,83.50 L440.00,72.00 L437.20,72.90 L434.00,66.00 L431.20,67.30 L428.20,60.20 L425.00,66.00 L421.60,68.30 L418.00,66.00 L415.00,65.30 L411.00,56.20 L408.50,55.00Z" fill="rgb(240,220,185)" fill-opacity="0.38"/>
<path d="M470.00,88.00C471.00,86.67 473.90,82.77 476.00,80.00C478.10,77.23 480.27,73.73 482.60,71.40C484.93,69.07 487.48,68.02 490.00,66.00C492.52,63.98 495.20,61.30 497.70,59.30C500.20,57.30 502.48,55.52 505.00,54.00C507.52,52.48 510.30,51.92 512.80,50.20C515.30,48.48 517.25,45.72 520.00,43.70C522.75,41.68 526.20,39.50 529.30,38.10C532.40,36.70 535.48,36.23 538.60,35.30C541.72,34.37 544.88,33.43 548.00,32.50C551.12,31.57 554.20,30.48 557.30,29.70C560.40,28.92 563.50,28.42 566.60,27.80C569.70,27.18 572.80,26.47 575.90,26.00C579.00,25.53 582.10,25.17 585.20,25.00C588.30,24.83 591.40,25.30 594.50,25.00C597.60,24.70 600.68,23.82 603.80,23.20C606.92,22.58 610.08,21.77 613.20,21.30C616.32,20.83 619.40,20.87 622.50,20.40C625.60,19.93 629.32,18.65 631.80,18.50C634.28,18.35 636.47,19.33 637.40,19.50L637.40,46.50C636.47,46.50 634.28,46.67 631.80,46.50C629.32,46.33 625.60,45.82 622.50,45.50C619.40,45.18 616.32,44.43 613.20,44.60C610.08,44.77 606.92,46.50 603.80,46.50C600.68,46.50 597.60,44.77 594.50,44.60C591.40,44.43 588.30,45.35 585.20,45.50C582.10,45.65 579.00,45.33 575.90,45.50C572.80,45.67 569.70,46.18 566.60,46.50C563.50,46.82 560.40,46.78 557.30,47.40C554.20,48.02 551.12,49.12 548.00,50.20C544.88,51.28 541.72,52.67 538.60,53.90C535.48,55.13 532.40,56.52 529.30,57.60C526.20,58.68 522.75,59.62 520.00,60.40C517.25,61.18 515.30,61.20 512.80,62.30C510.30,63.40 507.52,65.23 505.00,67.00C502.48,68.77 500.20,70.90 497.70,72.90C495.20,74.90 492.52,76.98 490.00,79.00C487.48,81.02 484.93,83.00 482.60,85.00C480.27,87.00 478.10,89.33 476.00,91.00C473.90,92.67 471.00,94.33 470.00,95.00Z" fill="rgb(205,190,232)" fill-opacity="0.42"/>
<g stroke="rgb(128,115,175)" stroke-width="1.2" fill="rgb(212,204,232)"><circle cx="408.50" cy="151.20" r="2.6"/><circle cx="411.00" cy="150.50" r="2.6"/><circle cx="415.50" cy="150.90" r="2.6"/><circle cx="420.10" cy="148.50" r="2.6"/><circle cx="424.70" cy="145.50" r="2.6"/><circle cx="429.20" cy="140.50" r="2.6"/><circle cx="433.80" cy="136.00" r="2.6"/><circle cx="438.20" cy="130.40" r="2.6"/><circle cx="442.70" cy="123.90" r="2.6"/><circle cx="447.30" cy="117.90" r="2.6"/><circle cx="451.80" cy="111.60" r="2.6"/><circle cx="456.40" cy="106.20" r="2.6"/><circle cx="460.90" cy="100.50" r="2.6"/><circle cx="465.00" cy="95.20" r="2.6"/><circle cx="470.10" cy="90.20" r="2.6"/><circle cx="474.60" cy="86.70" r="2.6"/><circle cx="479.10" cy="83.10" r="2.6"/><circle cx="483.70" cy="77.60" r="2.6"/><circle cx="488.20" cy="76.60" r="2.6"/><circle cx="492.70" cy="70.00" r="2.6"/><circle cx="497.30" cy="66.50" r="2.6"/><circle cx="501.90" cy="63.20" r="2.6"/><circle cx="506.50" cy="60.80" r="2.6"/><circle cx="511.20" cy="59.50" r="2.6"/><circle cx="516.40" cy="57.60" r="2.6"/><circle cx="521.50" cy="54.90" r="2.6"/><circle cx="526.50" cy="51.10" r="2.6"/><circle cx="531.20" cy="49.30" r="2.6"/><circle cx="535.30" cy="44.60" r="2.6"/><circle cx="540.10" cy="43.70" r="2.6"/><circle cx="544.80" cy="45.50" r="2.6"/><circle cx="549.80" cy="43.70" r="2.6"/><circle cx="554.50" cy="40.90" r="2.6"/><circle cx="559.10" cy="39.00" r="2.6"/><circle cx="564.00" cy="39.00" r="2.6"/><circle cx="568.80" cy="39.00" r="2.6"/><circle cx="573.70" cy="38.50" r="2.6"/><circle cx="578.10" cy="37.20" r="2.6"/><circle cx="583.00" cy="36.20" r="2.6"/><circle cx="587.40" cy="35.80" r="2.6"/><circle cx="592.70" cy="34.00" r="2.6"/><circle cx="596.80" cy="36.20" r="2.6"/><circle cx="602.00" cy="34.00" r="2.6"/><circle cx="607.20" cy="32.50" r="2.6"/><circle cx="612.80" cy="32.50" r="2.6"/><circle cx="619.10" cy="32.50" r="2.6"/><circle cx="625.30" cy="32.50" r="2.6"/><circle cx="631.40" cy="32.90" r="2.6"/><circle cx="637.40" cy="33.40" r="2.6"/></g>
<g stroke="rgb(238,165,45)" stroke-width="1.2" fill="rgb(250,222,150)"><circle cx="410.00" cy="49.10" r="2.6"/><circle cx="413.60" cy="48.60" r="2.6"/><circle cx="416.10" cy="53.20" r="2.6"/><circle cx="419.10" cy="51.20" r="2.6"/><circle cx="422.10" cy="52.20" r="2.6"/><circle cx="424.60" cy="58.70" r="2.6"/><circle cx="427.70" cy="56.20" r="2.6"/><circle cx="430.20" cy="56.20" r="2.6"/><circle cx="433.20" cy="52.70" r="2.6"/><circle cx="435.70" cy="57.20" r="2.6"/><circle cx="438.20" cy="68.30" r="2.6"/><circle cx="441.30" cy="75.70" r="2.6"/><circle cx="444.50" cy="76.30" r="2.6"/><circle cx="447.50" cy="78.70" r="2.6"/><circle cx="450.30" cy="81.90" r="2.6"/><circle cx="453.80" cy="85.00" r="2.6"/><circle cx="450.30" cy="86.00" r="2.6"/><circle cx="454.40" cy="85.60" r="2.6"/><circle cx="457.00" cy="93.70" r="2.6"/><circle cx="461.00" cy="99.80" r="2.6"/><circle cx="465.00" cy="99.30" r="2.6"/><circle cx="468.00" cy="99.50" r="2.6"/><circle cx="471.10" cy="99.30" r="2.6"/><circle cx="472.60" cy="102.50" r="2.6"/><circle cx="473.50" cy="107.80" r="2.6"/><circle cx="480.60" cy="113.20" r="2.6"/><circle cx="482.60" cy="108.60" r="2.6"/><circle cx="485.60" cy="112.20" r="2.6"/><circle cx="487.20" cy="114.70" r="2.6"/><circle cx="489.20" cy="110.20" r="2.6"/><circle cx="492.10" cy="107.20" r="2.6"/><circle cx="494.70" cy="108.20" r="2.6"/><circle cx="498.00" cy="103.80" r="2.6"/><circle cx="501.30" cy="103.80" r="2.6"/><circle cx="503.70" cy="106.20" r="2.6"/><circle cx="506.80" cy="112.20" r="2.6"/><circle cx="508.80" cy="114.30" r="2.6"/><circle cx="511.80" cy="114.30" r="2.6"/><circle cx="514.80" cy="114.70" r="2.6"/><circle cx="517.40" cy="110.60" r="2.6"/><circle cx="520.00" cy="114.30" r="2.6"/><circle cx="523.00" cy="114.30" r="2.6"/><circle cx="526.00" cy="118.30" r="2.6"/><circle cx="528.10" cy="119.90" r="2.6"/><circle cx="530.50" cy="117.30" r="2.6"/><circle cx="532.50" cy="106.80" r="2.6"/><circle cx="535.10" cy="105.60" r="2.6"/><circle cx="540.80" cy="111.60" r="2.6"/><circle cx="544.20" cy="116.90" r="2.6"/><circle cx="548.20" cy="118.90" r="2.6"/><circle cx="551.60" cy="118.30" r="2.6"/><circle cx="555.30" cy="116.90" r="2.6"/><circle cx="558.70" cy="112.20" r="2.6"/><circle cx="562.30" cy="112.20" r="2.6"/><circle cx="565.90" cy="108.20" r="2.6"/><circle cx="569.40" cy="108.20" r="2.6"/><circle cx="573.00" cy="113.20" r="2.6"/><circle cx="576.80" cy="117.70" r="2.6"/><circle cx="582.50" cy="116.90" r="2.6"/><circle cx="586.10" cy="119.30" r="2.6"/><circle cx="589.10" cy="122.90" r="2.6"/><circle cx="597.20" cy="124.30" r="2.6"/><circle cx="600.60" cy="116.90" r="2.6"/><circle cx="603.60" cy="120.90" r="2.6"/><circle cx="606.60" cy="115.30" r="2.6"/><circle cx="609.70" cy="111.80" r="2.6"/><circle cx="613.10" cy="114.70" r="2.6"/><circle cx="615.70" cy="119.30" r="2.6"/><circle cx="618.30" cy="125.30" r="2.6"/><circle cx="620.80" cy="122.30" r="2.6"/><circle cx="624.20" cy="119.90" r="2.6"/><circle cx="627.80" cy="118.90" r="2.6"/><circle cx="630.40" cy="114.30" r="2.6"/><circle cx="633.30" cy="107.20" r="2.6"/><circle cx="636.50" cy="110.20" r="2.6"/><circle cx="638.90" cy="113.20" r="2.6"/></g>
<path d="M412.80,152.43C413.44,152.20 415.38,151.65 416.67,151.09C417.96,150.53 419.25,149.85 420.54,149.08C421.82,148.31 423.11,147.43 424.40,146.47C425.69,145.51 426.98,144.45 428.27,143.33C429.56,142.20 430.85,140.99 432.14,139.72C433.43,138.45 434.72,137.11 436.01,135.72C437.30,134.34 438.59,132.88 439.87,131.40C441.16,129.91 442.45,128.38 443.74,126.82C445.03,125.26 446.32,123.66 447.61,122.05C448.90,120.45 450.19,118.81 451.48,117.17C452.77,115.54 454.06,113.89 455.35,112.25C456.64,110.61 457.92,108.96 459.21,107.34C460.50,105.72 461.79,104.11 463.08,102.53C464.37,100.95 465.66,99.40 466.95,97.88C468.24,96.35 469.53,94.86 470.82,93.40C472.11,91.94 473.40,90.51 474.68,89.11C475.97,87.71 477.26,86.34 478.55,85.00C479.84,83.66 481.13,82.35 482.42,81.08C483.71,79.80 485.00,78.56 486.29,77.34C487.58,76.13 488.87,74.95 490.16,73.80C491.45,72.65 492.73,71.53 494.02,70.45C495.31,69.36 496.60,68.31 497.89,67.29C499.18,66.27 500.47,65.28 501.76,64.33C503.05,63.37 504.34,62.45 505.63,61.55C506.92,60.66 508.21,59.80 509.49,58.97C510.78,58.13 512.07,57.33 513.36,56.56C514.65,55.78 515.94,55.04 517.23,54.32C518.52,53.60 519.81,52.91 521.10,52.24C522.39,51.58 523.68,50.94 524.97,50.33C526.26,49.71 527.54,49.13 528.83,48.56C530.12,48.00 531.41,47.46 532.70,46.94C533.99,46.43 535.28,45.94 536.57,45.46C537.86,44.99 539.15,44.54 540.44,44.11C541.73,43.69 543.02,43.28 544.31,42.89C545.59,42.50 546.88,42.14 548.17,41.79C549.46,41.44 550.75,41.11 552.04,40.80C553.33,40.48 554.62,40.19 555.91,39.91C557.20,39.63 558.49,39.37 559.78,39.13C561.07,38.88 562.35,38.65 563.64,38.43C564.93,38.22 566.22,38.02 567.51,37.83C568.80,37.64 570.09,37.46 571.38,37.30C572.67,37.14 573.96,36.99 575.25,36.85C576.54,36.71 577.83,36.58 579.12,36.46C580.40,36.34 581.69,36.24 582.98,36.14C584.27,36.04 585.56,35.95 586.85,35.87C588.14,35.79 589.43,35.71 590.72,35.65C592.01,35.58 593.30,35.52 594.59,35.46C595.88,35.41 597.16,35.36 598.45,35.32C599.74,35.27 601.03,35.23 602.32,35.20C603.61,35.16 604.90,35.13 606.19,35.10C607.48,35.07 608.77,35.04 610.06,35.02C611.35,34.99 612.64,34.97 613.93,34.94C615.21,34.92 616.50,34.90 617.79,34.87C619.08,34.85 620.37,34.82 621.66,34.80C622.95,34.77 624.24,34.74 625.53,34.71C626.82,34.68 628.11,34.64 629.40,34.60C630.69,34.57 631.98,34.52 633.26,34.48C634.55,34.43 635.84,34.38 637.13,34.32C638.42,34.26 640.36,34.15 641.00,34.12" stroke="rgb(165,65,195)" stroke-width="1.6" fill="none"/>
<path d="M409.50,47.82C410.15,48.15 412.11,49.08 413.42,49.78C414.73,50.48 416.04,51.23 417.34,52.01C418.65,52.80 419.96,53.63 421.27,54.49C422.57,55.35 423.88,56.25 425.19,57.17C426.50,58.09 427.80,59.05 429.11,60.02C430.42,60.99 431.72,62.00 433.03,63.01C434.34,64.02 435.65,65.05 436.95,66.09C438.26,67.13 439.57,68.19 440.88,69.24C442.18,70.30 443.49,71.36 444.80,72.42C446.11,73.48 447.41,74.54 448.72,75.60C450.03,76.65 451.34,77.71 452.64,78.76C453.95,79.80 455.26,80.84 456.56,81.87C457.87,82.90 459.18,83.91 460.49,84.92C461.79,85.92 463.10,86.91 464.41,87.88C465.72,88.85 467.02,89.80 468.33,90.73C469.64,91.66 470.95,92.57 472.25,93.45C473.56,94.33 474.87,95.19 476.17,96.02C477.48,96.84 478.79,97.64 480.10,98.41C481.40,99.18 482.71,99.91 484.02,100.61C485.33,101.32 486.63,101.99 487.94,102.63C489.25,103.28 490.56,103.89 491.86,104.47C493.17,105.06 494.48,105.61 495.78,106.14C497.09,106.67 498.40,107.17 499.71,107.64C501.01,108.12 502.32,108.57 503.63,108.99C504.94,109.41 506.24,109.81 507.55,110.19C508.86,110.56 510.17,110.91 511.47,111.24C512.78,111.57 514.09,111.88 515.39,112.16C516.70,112.45 518.01,112.71 519.32,112.95C520.62,113.19 521.93,113.42 523.24,113.62C524.55,113.82 525.85,114.01 527.16,114.17C528.47,114.34 529.78,114.49 531.08,114.62C532.39,114.76 533.70,114.87 535.01,114.97C536.31,115.07 537.62,115.16 538.93,115.23C540.23,115.30 541.54,115.35 542.85,115.40C544.16,115.44 545.46,115.47 546.77,115.49C548.08,115.51 549.39,115.51 550.69,115.51C552.00,115.50 553.31,115.49 554.62,115.47C555.92,115.44 557.23,115.41 558.54,115.36C559.84,115.32 561.15,115.27 562.46,115.22C563.77,115.16 565.07,115.09 566.38,115.02C567.69,114.95 569.00,114.88 570.30,114.79C571.61,114.71 572.92,114.63 574.23,114.54C575.53,114.45 576.84,114.36 578.15,114.26C579.45,114.17 580.76,114.07 582.07,113.97C583.38,113.87 584.68,113.77 585.99,113.67C587.30,113.57 588.61,113.47 589.91,113.38C591.22,113.28 592.53,113.18 593.84,113.09C595.14,112.99 596.45,112.90 597.76,112.81C599.06,112.72 600.37,112.64 601.68,112.56C602.99,112.48 604.29,112.40 605.60,112.34C606.91,112.27 608.22,112.20 609.52,112.15C610.83,112.09 612.14,112.04 613.45,112.00C614.75,111.97 616.06,111.93 617.37,111.91C618.68,111.89 619.98,111.88 621.29,111.88C622.60,111.87 623.90,111.88 625.21,111.90C626.52,111.93 627.83,111.96 629.13,112.01C630.44,112.05 631.75,112.11 633.06,112.19C634.36,112.26 635.67,112.35 636.98,112.45C638.29,112.56 640.25,112.75 640.90,112.81" stroke="rgb(240,155,70)" stroke-width="1.6" fill="none"/>
</g>
<circle cx="598.3" cy="63.8" r="3.3" stroke="rgb(128,115,175)" stroke-width="2.0" fill="rgb(212,204,232)"/><text x="605.6" y="69.6" font-size="14.5">Φ<tspan font-size="10" dy="3.5">1</tspan></text><circle cx="598.3" cy="81.3" r="3.3" stroke="rgb(238,165,45)" stroke-width="2.0" fill="rgb(250,222,150)"/><text x="605.6" y="87.1" font-size="14.5">Φ<tspan font-size="10" dy="3.5">2</tspan></text>
<clipPath id="cc"><rect x="50.05" y="212.35" width="234.9" height="144.7"/></clipPath>
<g clip-path="url(#cc)">
<path d="M57.50,328.06 L58.30,321.99 L59.10,315.70 L59.90,309.23 L60.70,302.90 L61.50,296.63 L62.30,290.62 L63.10,284.67 L63.90,279.01 L64.70,273.46 L65.50,268.30 L66.30,263.50 L67.10,259.11 L67.90,255.39 L68.70,252.02 L69.50,249.48 L70.30,247.12 L71.10,245.59 L71.90,244.27 L72.70,243.56 L73.50,243.20 L74.30,243.26 L75.10,243.80 L75.90,244.60 L76.70,245.97 L77.50,247.48 L78.30,249.59 L79.10,251.85 L79.90,254.56 L80.70,257.46 L81.50,260.66 L82.30,264.16 L83.10,267.83 L83.90,271.68 L84.70,275.56 L85.50,279.35 L86.30,283.03 L87.10,286.40 L87.90,289.43 L88.70,292.05 L89.50,294.00 L90.30,295.57 L91.10,296.21 L91.90,296.49 L92.70,295.79 L93.50,294.93 L94.30,293.57 L95.10,292.00 L95.90,290.13 L96.70,288.07 L97.50,285.92 L98.30,283.69 L99.10,281.10 L99.90,278.36 L100.70,275.64 L101.50,272.97 L102.30,270.39 L103.10,267.95 L103.90,265.75 L104.70,263.71 L105.50,262.21 L106.30,260.88 L107.10,260.19 L107.90,259.62 L108.70,259.48 L109.50,259.54 L110.30,259.85 L111.10,260.36 L111.90,260.99 L112.70,261.79 L113.50,262.63 L114.30,263.56 L115.10,264.48 L115.90,265.40 L116.70,266.29 L117.50,267.17 L118.30,268.05 L119.10,268.97 L119.90,269.84 L120.70,270.70 L121.50,271.48 L122.30,272.25 L123.10,272.94 L123.90,273.60 L124.70,274.20 L125.50,274.36 L126.30,274.26 L127.10,274.06 L127.90,273.83 L128.70,273.47 L129.50,273.07 L130.30,272.56 L131.10,272.03 L131.90,271.76 L132.70,271.38 L133.50,270.94 L134.30,270.34 L135.10,269.71 L135.90,268.91 L136.70,268.09 L137.50,267.49 L138.30,267.06 L139.10,266.60 L139.90,266.14 L140.70,265.68 L141.50,265.28 L142.30,264.89 L143.10,264.62 L143.90,264.39 L144.70,264.31 L145.50,264.09 L146.30,264.02 L147.10,264.10 L147.90,264.27 L148.70,264.60 L149.50,264.97 L150.30,265.48 L151.10,266.00 L151.90,266.59 L152.70,267.19 L153.50,267.82 L154.30,268.46 L155.10,269.10 L155.90,269.74 L156.70,270.37 L157.50,270.81 L158.30,271.21 L159.10,271.58 L159.90,271.93 L160.70,272.23 L161.50,272.48 L162.30,272.70 L163.10,272.76 L163.90,272.67 L164.70,272.47 L165.50,272.24 L166.30,271.93 L167.10,271.58 L167.90,271.19 L168.70,270.75 L169.50,270.29 L170.30,269.79 L171.10,269.23 L171.90,268.63 L172.70,268.02 L173.50,267.41 L174.30,266.79 L175.10,266.17 L175.90,265.56 L176.70,265.13 L177.50,265.00 L178.30,264.89 L179.10,264.80 L179.90,264.73 L180.70,264.69 L181.50,264.68 L182.30,264.71 L183.10,264.88 L183.90,265.11 L184.70,265.38 L185.50,265.66 L186.30,265.97 L187.10,266.29 L187.90,266.62 L188.70,266.94 L189.50,267.20 L190.30,267.46 L191.10,267.72 L191.90,267.97 L192.70,268.23 L193.50,268.48 L194.30,268.73 L195.10,268.99 L195.90,269.26 L196.70,269.53 L197.50,269.80 L198.30,270.07 L199.10,270.33 L199.90,270.59 L200.70,270.50 L201.50,270.35 L202.30,270.20 L203.10,270.05 L203.90,269.90 L204.70,269.75 L205.50,269.59 L206.30,269.44 L207.10,269.32 L207.90,269.22 L208.70,269.12 L209.50,269.01 L210.30,268.91 L211.10,268.80 L211.90,268.69 L212.70,268.58 L213.50,268.65 L214.30,268.91 L215.10,269.16 L215.90,269.41 L216.70,269.66 L217.50,269.91 L218.30,270.15 L219.10,270.40 L219.90,270.63 L220.70,270.82 L221.50,271.00 L222.30,271.18 L223.10,271.37 L223.90,271.55 L224.70,271.73 L225.50,271.91 L226.30,272.03 L227.10,271.78 L227.90,271.53 L228.70,271.28 L229.50,271.03 L230.30,270.77 L231.10,270.52 L231.90,270.26 L232.70,270.01 L233.50,269.88 L234.30,269.77 L235.10,269.65 L235.90,269.54 L236.70,269.43 L237.50,269.31 L238.30,269.20 L239.10,269.08 L239.90,268.96 L240.70,268.85 L241.50,268.91 L242.30,269.09 L243.10,269.26 L243.90,269.43 L244.70,269.61 L245.50,269.78 L246.30,269.95 L247.10,270.13 L247.90,270.30 L248.70,270.47 L249.50,270.62 L250.30,270.72 L251.10,270.82 L251.90,270.91 L252.70,271.01 L253.50,271.11 L254.30,271.21 L255.10,271.31 L255.90,271.32 L256.70,271.05 L257.50,270.79 L258.30,270.52 L259.10,270.25 L259.90,269.99 L260.70,269.72 L261.50,269.45 L262.30,269.19 L263.10,268.92 L263.90,268.66 L264.70,268.39 L265.50,268.13 L266.30,267.86 L267.10,267.60 L267.90,267.34 L268.70,267.07 L269.50,266.92 L270.30,266.80 L271.10,266.68 L271.90,266.56 L272.70,266.45 L273.50,266.33 L274.30,266.22 L275.10,266.10 L275.90,265.99 L276.70,265.87 L277.50,265.90 L278.30,266.00 L279.10,266.11 L279.90,266.22 L280.70,266.33 L281.50,266.44 L282.30,266.55 L283.10,266.66 L283.10,285.12 L282.30,285.25 L281.50,285.39 L280.70,285.52 L279.90,285.65 L279.10,285.79 L278.30,285.93 L277.50,286.06 L276.70,286.18 L275.90,286.24 L275.10,286.31 L274.30,286.38 L273.50,286.45 L272.70,286.52 L271.90,286.59 L271.10,286.66 L270.30,286.73 L269.50,286.80 L268.70,286.80 L267.90,286.58 L267.10,286.36 L266.30,286.15 L265.50,285.93 L264.70,285.71 L263.90,285.49 L263.10,285.28 L262.30,285.06 L261.50,284.91 L260.70,284.75 L259.90,284.60 L259.10,284.44 L258.30,284.29 L257.50,284.13 L256.70,283.98 L255.90,283.82 L255.10,283.88 L254.30,284.00 L253.50,284.13 L252.70,284.25 L251.90,284.38 L251.10,284.51 L250.30,284.63 L249.50,284.76 L248.70,284.92 L247.90,285.11 L247.10,285.31 L246.30,285.50 L245.50,285.69 L244.70,285.88 L243.90,286.07 L243.10,286.26 L242.30,286.45 L241.50,286.64 L240.70,286.73 L239.90,286.65 L239.10,286.58 L238.30,286.50 L237.50,286.42 L236.70,286.35 L235.90,286.27 L235.10,286.19 L234.30,286.11 L233.50,286.03 L232.70,285.95 L231.90,285.91 L231.10,285.86 L230.30,285.81 L229.50,285.77 L228.70,285.72 L227.90,285.67 L227.10,285.62 L226.30,285.57 L225.50,285.89 L224.70,286.27 L223.90,286.64 L223.10,287.02 L222.30,287.39 L221.50,287.76 L220.70,288.13 L219.90,288.50 L219.10,288.78 L218.30,289.02 L217.50,289.25 L216.70,289.49 L215.90,289.73 L215.10,289.96 L214.30,290.20 L213.50,290.43 L212.70,290.35 L211.90,289.97 L211.10,289.59 L210.30,289.20 L209.50,288.81 L208.70,288.43 L207.90,288.03 L207.10,287.64 L206.30,287.39 L205.50,287.36 L204.70,287.33 L203.90,287.30 L203.10,287.27 L202.30,287.24 L201.50,287.20 L200.70,287.16 L199.90,287.18 L199.10,287.58 L198.30,287.99 L197.50,288.39 L196.70,288.78 L195.90,289.18 L195.10,289.57 L194.30,289.70 L193.50,289.38 L192.70,289.06 L191.90,288.74 L191.10,288.41 L190.30,288.09 L189.50,287.76 L188.70,287.43 L187.90,287.22 L187.10,287.06 L186.30,286.92 L185.50,286.78 L184.70,286.68 L183.90,286.60 L183.10,286.57 L182.30,286.58 L181.50,286.67 L180.70,286.80 L179.90,286.96 L179.10,287.17 L178.30,287.38 L177.50,287.63 L176.70,287.88 L175.90,288.24 L175.10,288.66 L174.30,289.07 L173.50,289.46 L172.70,289.85 L171.90,290.19 L171.10,290.53 L170.30,290.81 L169.50,291.18 L168.70,291.49 L167.90,291.77 L167.10,292.00 L166.30,292.20 L165.50,292.36 L164.70,292.48 L163.90,292.58 L163.10,292.62 L162.30,292.43 L161.50,292.07 L160.70,291.68 L159.90,291.27 L159.10,290.82 L158.30,290.35 L157.50,289.85 L156.70,289.35 L155.90,288.86 L155.10,288.37 L154.30,287.84 L153.50,287.30 L152.70,286.74 L151.90,286.17 L151.10,285.59 L150.30,285.07 L149.50,284.59 L148.70,284.24 L147.90,283.92 L147.10,283.77 L146.30,283.73 L145.50,283.86 L144.70,284.14 L143.90,284.11 L143.10,284.25 L142.30,284.43 L141.50,284.76 L140.70,285.11 L139.90,285.53 L139.10,285.96 L138.30,286.41 L137.50,286.85 L136.70,287.50 L135.90,288.47 L135.10,289.43 L134.30,290.24 L133.50,291.02 L132.70,291.65 L131.90,292.22 L131.10,292.67 L130.30,292.68 L129.50,292.58 L128.70,292.35 L127.90,292.08 L127.10,291.67 L126.30,291.23 L125.50,290.67 L124.70,290.16 L123.90,289.73 L123.10,289.22 L122.30,288.67 L121.50,288.02 L120.70,287.35 L119.90,286.57 L119.10,285.79 L118.30,284.97 L117.50,284.07 L116.70,283.14 L115.90,282.24 L115.10,281.37 L114.30,280.60 L113.50,279.86 L112.70,279.29 L111.90,278.77 L111.10,278.45 L110.30,278.24 L109.50,278.22 L108.70,278.39 L107.90,278.72 L107.10,279.31 L106.30,279.98 L105.50,280.95 L104.70,281.98 L103.90,283.27 L103.10,284.65 L102.30,286.18 L101.50,287.85 L100.70,289.61 L99.90,291.52 L99.10,293.48 L98.30,295.55 L97.50,297.93 L96.70,300.08 L95.90,302.07 L95.10,303.78 L94.30,305.04 L93.50,306.02 L92.70,306.41 L91.90,306.61 L91.10,306.10 L90.30,305.59 L89.50,304.38 L88.70,302.93 L87.90,301.05 L87.10,298.88 L86.30,296.47 L85.50,293.79 L84.70,291.01 L83.90,288.02 L83.10,285.00 L82.30,281.93 L81.50,278.89 L80.70,275.92 L79.90,273.11 L79.10,270.51 L78.30,268.24 L77.50,266.07 L76.70,264.48 L75.90,263.03 L75.10,262.24 L74.30,261.78 L73.50,261.93 L72.70,262.69 L71.90,263.95 L71.10,266.16 L70.30,268.69 L69.50,272.57 L68.70,276.68 L67.90,281.68 L67.10,286.75 L66.30,291.97 L65.50,297.17 L64.70,302.32 L63.90,307.27 L63.10,312.18 L62.30,316.75 L61.50,321.23 L60.70,325.26 L59.90,329.04 L59.10,332.33 L58.30,335.11 L57.50,337.53Z" fill="rgb(230,120,120)" fill-opacity="0.25"/>
<path d="M58.10,326.66 L58.90,320.59 L59.70,314.30 L60.50,307.83 L61.30,301.50 L62.10,295.23 L62.90,289.22 L63.70,283.27 L64.50,277.61 L65.30,272.06 L66.10,266.90 L66.90,262.10 L67.70,257.71 L68.50,253.99 L69.30,250.62 L70.10,248.08 L70.90,245.72 L71.70,244.19 L72.50,242.87 L73.30,242.16 L74.10,241.80 L74.90,241.86 L75.70,242.40 L76.50,243.20 L77.30,244.57 L78.10,246.08 L78.90,248.19 L79.70,250.45 L80.50,253.16 L81.30,256.06 L82.10,259.26 L82.90,262.76 L83.70,266.43 L84.50,270.28 L85.30,274.16 L86.10,277.95 L86.90,281.63 L87.70,285.00 L88.50,288.03 L89.30,290.65 L90.10,292.60 L90.90,294.17 L91.70,294.81 L92.50,295.09 L93.30,294.39 L94.10,293.53 L94.90,292.17 L95.70,290.60 L96.50,288.73 L97.30,286.67 L98.10,284.52 L98.90,282.29 L99.70,279.70 L100.50,276.96 L101.30,274.24 L102.10,271.57 L102.90,268.99 L103.70,266.55 L104.50,264.35 L105.30,262.31 L106.10,260.81 L106.90,259.48 L107.70,258.79 L108.50,258.22 L109.30,258.08 L110.10,258.14 L110.90,258.45 L111.70,258.96 L112.50,259.59 L113.30,260.39 L114.10,261.23 L114.90,262.16 L115.70,263.08 L116.50,264.00 L117.30,264.89 L118.10,265.77 L118.90,266.65 L119.70,267.57 L120.50,268.44 L121.30,269.30 L122.10,270.08 L122.90,270.85 L123.70,271.54 L124.50,272.20 L125.30,272.80 L126.10,272.96 L126.90,272.86 L127.70,272.66 L128.50,272.43 L129.30,272.07 L130.10,271.67 L130.90,271.16 L131.70,270.63 L132.50,270.36 L133.30,269.98 L134.10,269.54 L134.90,268.94 L135.70,268.31 L136.50,267.51 L137.30,266.69 L138.10,266.09 L138.90,265.66 L139.70,265.20 L140.50,264.74 L141.30,264.28 L142.10,263.88 L142.90,263.49 L143.70,263.22 L144.50,262.99 L145.30,262.91 L146.10,262.69 L146.90,262.62 L147.70,262.70 L148.50,262.87 L149.30,263.20 L150.10,263.57 L150.90,264.08 L151.70,264.60 L152.50,265.19 L153.30,265.79 L154.10,266.42 L154.90,267.06 L155.70,267.70 L156.50,268.34 L157.30,268.97 L158.10,269.41 L158.90,269.81 L159.70,270.18 L160.50,270.53 L161.30,270.83 L162.10,271.08 L162.90,271.30 L163.70,271.36 L164.50,271.27 L165.30,271.07 L166.10,270.84 L166.90,270.53 L167.70,270.18 L168.50,269.79 L169.30,269.35 L170.10,268.89 L170.90,268.39 L171.70,267.83 L172.50,267.23 L173.30,266.62 L174.10,266.01 L174.90,265.39 L175.70,264.77 L176.50,264.16 L177.30,263.73 L178.10,263.60 L178.90,263.49 L179.70,263.40 L180.50,263.33 L181.30,263.29 L182.10,263.28 L182.90,263.31 L183.70,263.48 L184.50,263.71 L185.30,263.98 L186.10,264.26 L186.90,264.57 L187.70,264.89 L188.50,265.22 L189.30,265.54 L190.10,265.80 L190.90,266.06 L191.70,266.32 L192.50,266.57 L193.30,266.83 L194.10,267.08 L194.90,267.33 L195.70,267.59 L196.50,267.86 L197.30,268.13 L198.10,268.40 L198.90,268.67 L199.70,268.93 L200.50,269.19 L201.30,269.10 L202.10,268.95 L202.90,268.80 L203.70,268.65 L204.50,268.50 L205.30,268.35 L206.10,268.19 L206.90,268.04 L207.70,267.92 L208.50,267.82 L209.30,267.72 L210.10,267.61 L210.90,267.51 L211.70,267.40 L212.50,267.29 L213.30,267.18 L214.10,267.25 L214.90,267.51 L215.70,267.76 L216.50,268.01 L217.30,268.26 L218.10,268.51 L218.90,268.75 L219.70,269.00 L220.50,269.23 L221.30,269.42 L222.10,269.60 L222.90,269.78 L223.70,269.97 L224.50,270.15 L225.30,270.33 L226.10,270.51 L226.90,270.63 L227.70,270.38 L228.50,270.13 L229.30,269.88 L230.10,269.63 L230.90,269.37 L231.70,269.12 L232.50,268.86 L233.30,268.61 L234.10,268.48 L234.90,268.37 L235.70,268.25 L236.50,268.14 L237.30,268.03 L238.10,267.91 L238.90,267.80 L239.70,267.68 L240.50,267.56 L241.30,267.45 L242.10,267.51 L242.90,267.69 L243.70,267.86 L244.50,268.03 L245.30,268.21 L246.10,268.38 L246.90,268.55 L247.70,268.73 L248.50,268.90 L249.30,269.07 L250.10,269.22 L250.90,269.32 L251.70,269.42 L252.50,269.51 L253.30,269.61 L254.10,269.71 L254.90,269.81 L255.70,269.91 L256.50,269.92 L257.30,269.65 L258.10,269.39 L258.90,269.12 L259.70,268.85 L260.50,268.59 L261.30,268.32 L262.10,268.05 L262.90,267.79 L263.70,267.52 L264.50,267.26 L265.30,266.99 L266.10,266.73 L266.90,266.46 L267.70,266.20 L268.50,265.94 L269.30,265.67 L270.10,265.52 L270.90,265.40 L271.70,265.28 L272.50,265.16 L273.30,265.05 L274.10,264.93 L274.90,264.82 L275.70,264.70 L276.50,264.59 L277.30,264.47 L278.10,264.50 L278.90,264.60 L279.70,264.71 L280.50,264.82 L281.30,264.93 L282.10,265.04 L282.90,265.15 L283.70,265.26 L283.70,283.72 L282.90,283.85 L282.10,283.99 L281.30,284.12 L280.50,284.25 L279.70,284.39 L278.90,284.53 L278.10,284.66 L277.30,284.78 L276.50,284.84 L275.70,284.91 L274.90,284.98 L274.10,285.05 L273.30,285.12 L272.50,285.19 L271.70,285.26 L270.90,285.33 L270.10,285.40 L269.30,285.40 L268.50,285.18 L267.70,284.96 L266.90,284.75 L266.10,284.53 L265.30,284.31 L264.50,284.09 L263.70,283.88 L262.90,283.66 L262.10,283.51 L261.30,283.35 L260.50,283.20 L259.70,283.04 L258.90,282.89 L258.10,282.73 L257.30,282.58 L256.50,282.42 L255.70,282.48 L254.90,282.60 L254.10,282.73 L253.30,282.85 L252.50,282.98 L251.70,283.11 L250.90,283.23 L250.10,283.36 L249.30,283.52 L248.50,283.71 L247.70,283.91 L246.90,284.10 L246.10,284.29 L245.30,284.48 L244.50,284.67 L243.70,284.86 L242.90,285.05 L242.10,285.24 L241.30,285.33 L240.50,285.25 L239.70,285.18 L238.90,285.10 L238.10,285.02 L237.30,284.95 L236.50,284.87 L235.70,284.79 L234.90,284.71 L234.10,284.63 L233.30,284.55 L232.50,284.51 L231.70,284.46 L230.90,284.41 L230.10,284.37 L229.30,284.32 L228.50,284.27 L227.70,284.22 L226.90,284.17 L226.10,284.49 L225.30,284.87 L224.50,285.24 L223.70,285.62 L222.90,285.99 L222.10,286.36 L221.30,286.73 L220.50,287.10 L219.70,287.38 L218.90,287.62 L218.10,287.85 L217.30,288.09 L216.50,288.33 L215.70,288.56 L214.90,288.80 L214.10,289.03 L213.30,288.95 L212.50,288.57 L211.70,288.19 L210.90,287.80 L210.10,287.41 L209.30,287.03 L208.50,286.63 L207.70,286.24 L206.90,285.99 L206.10,285.96 L205.30,285.93 L204.50,285.90 L203.70,285.87 L202.90,285.84 L202.10,285.80 L201.30,285.76 L200.50,285.78 L199.70,286.18 L198.90,286.59 L198.10,286.99 L197.30,287.38 L196.50,287.78 L195.70,288.17 L194.90,288.30 L194.10,287.98 L193.30,287.66 L192.50,287.34 L191.70,287.01 L190.90,286.69 L190.10,286.36 L189.30,286.03 L188.50,285.82 L187.70,285.66 L186.90,285.52 L186.10,285.38 L185.30,285.28 L184.50,285.20 L183.70,285.17 L182.90,285.18 L182.10,285.27 L181.30,285.40 L180.50,285.56 L179.70,285.77 L178.90,285.98 L178.10,286.23 L177.30,286.48 L176.50,286.84 L175.70,287.26 L174.90,287.67 L174.10,288.06 L173.30,288.45 L172.50,288.79 L171.70,289.13 L170.90,289.41 L170.10,289.78 L169.30,290.09 L168.50,290.37 L167.70,290.60 L166.90,290.80 L166.10,290.96 L165.30,291.08 L164.50,291.18 L163.70,291.22 L162.90,291.03 L162.10,290.67 L161.30,290.28 L160.50,289.87 L159.70,289.42 L158.90,288.95 L158.10,288.45 L157.30,287.95 L156.50,287.46 L155.70,286.97 L154.90,286.44 L154.10,285.90 L153.30,285.34 L152.50,284.77 L151.70,284.19 L150.90,283.67 L150.10,283.19 L149.30,282.84 L148.50,282.52 L147.70,282.37 L146.90,282.33 L146.10,282.46 L145.30,282.74 L144.50,282.71 L143.70,282.85 L142.90,283.03 L142.10,283.36 L141.30,283.71 L140.50,284.13 L139.70,284.56 L138.90,285.01 L138.10,285.45 L137.30,286.10 L136.50,287.07 L135.70,288.03 L134.90,288.84 L134.10,289.62 L133.30,290.25 L132.50,290.82 L131.70,291.27 L130.90,291.28 L130.10,291.18 L129.30,290.95 L128.50,290.68 L127.70,290.27 L126.90,289.83 L126.10,289.27 L125.30,288.76 L124.50,288.33 L123.70,287.82 L122.90,287.27 L122.10,286.62 L121.30,285.95 L120.50,285.17 L119.70,284.39 L118.90,283.57 L118.10,282.67 L117.30,281.74 L116.50,280.84 L115.70,279.97 L114.90,279.20 L114.10,278.46 L113.30,277.89 L112.50,277.37 L111.70,277.05 L110.90,276.84 L110.10,276.82 L109.30,276.99 L108.50,277.32 L107.70,277.91 L106.90,278.58 L106.10,279.55 L105.30,280.58 L104.50,281.87 L103.70,283.25 L102.90,284.78 L102.10,286.45 L101.30,288.21 L100.50,290.12 L99.70,292.08 L98.90,294.15 L98.10,296.53 L97.30,298.68 L96.50,300.67 L95.70,302.38 L94.90,303.64 L94.10,304.62 L93.30,305.01 L92.50,305.21 L91.70,304.70 L90.90,304.19 L90.10,302.98 L89.30,301.53 L88.50,299.65 L87.70,297.48 L86.90,295.07 L86.10,292.39 L85.30,289.61 L84.50,286.62 L83.70,283.60 L82.90,280.53 L82.10,277.49 L81.30,274.52 L80.50,271.71 L79.70,269.11 L78.90,266.84 L78.10,264.67 L77.30,263.08 L76.50,261.63 L75.70,260.84 L74.90,260.38 L74.10,260.53 L73.30,261.29 L72.50,262.55 L71.70,264.76 L70.90,267.29 L70.10,271.17 L69.30,275.28 L68.50,280.28 L67.70,285.35 L66.90,290.57 L66.10,295.77 L65.30,300.92 L64.50,305.87 L63.70,310.78 L62.90,315.35 L62.10,319.83 L61.30,323.86 L60.50,327.64 L59.70,330.93 L58.90,333.71 L58.10,336.13Z" fill="rgb(125,110,215)" fill-opacity="0.30"/>
<path d="M55.85,336.20 L57.29,316.16 L58.73,287.46 L60.17,264.24 L61.61,248.93 L63.05,238.98 L64.49,232.42 L65.93,229.48 L67.37,232.06 L68.82,239.47 L70.26,248.88 L71.70,259.53 L73.14,271.09 L74.58,282.94 L76.02,294.01 L77.46,303.36 L78.90,311.04 L80.34,317.45 L81.78,322.90 L83.22,327.70 L84.66,332.05 L86.10,335.74 L87.54,338.46 L88.98,340.09 L90.42,340.64 L91.86,340.14 L93.30,338.62 L94.75,336.08 L96.19,332.70 L97.63,328.83 L99.07,324.85 L100.51,321.09 L101.95,317.77 L103.39,315.07 L104.83,313.18 L106.27,312.29 L107.71,312.54 L109.15,313.81 L110.59,315.89 L112.03,318.54 L113.47,321.54 L114.91,324.67 L116.35,327.70 L117.79,330.44 L119.23,332.70 L120.68,334.38 L122.12,335.52 L123.56,336.19 L125.00,336.43 L126.44,336.31 L127.88,335.89 L129.32,335.22 L130.76,334.34 L132.20,333.31 L133.64,332.21 L135.08,331.08 L136.52,330.00 L137.96,329.00 L139.40,328.14 L140.84,327.45 L142.28,327.00 L143.72,326.82 L145.17,326.96 L146.61,327.46 L148.05,328.37 L149.49,329.60 L150.93,330.94 L152.37,332.22 L153.81,333.25 L155.25,333.97 L156.69,334.42 L158.13,334.64 L159.57,334.66 L161.01,334.54 L162.45,334.29 L163.89,333.98 L165.33,333.62 L166.77,333.27 L168.21,332.95 L169.65,332.67 L171.10,332.43 L172.54,332.22 L173.98,332.04 L175.42,331.89 L176.86,331.76 L178.30,331.66 L179.74,331.59 L181.18,331.62 L182.62,331.68 L184.06,331.77 L185.50,331.86 L186.94,331.97 L188.38,332.09 L189.82,332.22 L191.26,332.36 L192.70,332.50 L194.14,332.64 L195.58,332.79 L197.03,332.93 L198.47,333.07 L199.91,333.21 L201.35,333.11 L202.79,332.99 L204.23,332.86 L205.67,332.73 L207.11,332.61 L208.55,332.47 L209.99,332.34 L211.43,332.20 L212.87,332.06 L214.31,331.92 L215.75,331.97 L217.19,332.20 L218.63,332.43 L220.07,332.66 L221.52,332.87 L222.96,333.09 L224.40,333.30 L225.84,333.50 L227.28,333.70 L228.72,333.89 L230.16,334.06 L231.60,334.06 L233.04,334.05 L234.48,334.05 L235.92,334.04 L237.36,334.02 L238.80,334.01 L240.24,334.00 L241.68,333.98 L243.12,333.97 L244.56,333.95 L246.00,333.94 L247.45,333.93 L248.89,333.92 L250.33,333.91 L251.77,333.90 L253.21,333.90 L254.65,333.90 L256.09,333.90 L257.53,333.91 L258.97,333.92 L260.41,333.94 L261.85,333.96 L263.29,333.98 L264.73,334.02 L266.17,334.05 L267.61,334.10 L269.05,334.15 L270.49,334.21 L271.93,334.27 L273.38,334.35 L274.82,334.43 L276.26,334.52 L277.70,334.63 L279.14,334.74 L280.58,334.86 L282.02,334.99 L283.46,335.13 L284.90,335.28 L284.90,343.28 L283.46,343.13 L282.02,342.99 L280.58,342.86 L279.14,342.74 L277.70,342.63 L276.26,342.52 L274.82,342.43 L273.38,342.35 L271.93,342.27 L270.49,342.21 L269.05,342.15 L267.61,342.10 L266.17,342.05 L264.73,342.02 L263.29,341.98 L261.85,341.96 L260.41,341.94 L258.97,341.92 L257.53,341.91 L256.09,341.90 L254.65,341.90 L253.21,341.90 L251.77,341.90 L250.33,341.91 L248.89,341.92 L247.45,341.93 L246.00,341.94 L244.56,341.95 L243.12,341.97 L241.68,341.98 L240.24,342.00 L238.80,342.01 L237.36,342.02 L235.92,342.04 L234.48,342.05 L233.04,342.05 L231.60,342.06 L230.16,342.06 L228.72,342.24 L227.28,342.42 L225.84,342.61 L224.40,342.79 L222.96,342.97 L221.52,343.14 L220.07,343.30 L218.63,343.46 L217.19,343.62 L215.75,343.77 L214.31,343.74 L212.87,343.50 L211.43,343.25 L209.99,343.00 L208.55,342.75 L207.11,342.50 L205.67,342.25 L204.23,341.99 L202.79,341.73 L201.35,341.47 L199.91,341.22 L198.47,341.23 L197.03,341.23 L195.58,341.23 L194.14,341.23 L192.70,341.23 L191.26,341.23 L189.82,341.24 L188.38,341.26 L186.94,341.28 L185.50,341.31 L184.06,341.36 L182.62,341.42 L181.18,341.50 L179.74,341.58 L178.30,341.60 L176.86,341.64 L175.42,341.70 L173.98,341.80 L172.54,341.92 L171.10,342.07 L169.65,342.26 L168.21,342.48 L166.77,342.74 L165.33,343.04 L163.89,343.33 L162.45,343.59 L161.01,343.78 L159.57,343.85 L158.13,343.76 L156.69,343.49 L155.25,342.98 L153.81,342.20 L152.37,341.12 L150.93,339.78 L149.49,338.37 L148.05,337.09 L146.61,336.13 L145.17,335.56 L143.72,335.37 L142.28,335.49 L140.84,335.89 L139.40,336.51 L137.96,337.32 L136.52,338.26 L135.08,339.29 L133.64,340.35 L132.20,341.40 L130.76,342.37 L129.32,343.22 L127.88,343.89 L126.44,344.31 L125.00,344.43 L123.56,344.19 L122.12,343.52 L120.68,342.38 L119.23,340.70 L117.79,338.44 L116.35,335.70 L114.91,332.67 L113.47,329.54 L112.03,326.54 L110.59,323.89 L109.15,321.81 L107.71,320.54 L106.27,320.29 L104.83,321.18 L103.39,323.07 L101.95,325.77 L100.51,329.09 L99.07,332.85 L97.63,336.83 L96.19,340.70 L94.75,344.08 L93.30,346.62 L91.86,348.14 L90.42,348.64 L88.98,348.09 L87.54,346.46 L86.10,343.74 L84.66,340.05 L83.22,335.70 L81.78,330.90 L80.34,325.45 L78.90,319.04 L77.46,311.36 L76.02,302.01 L74.58,290.94 L73.14,279.09 L71.70,267.53 L70.26,256.88 L68.82,247.47 L67.37,240.06 L65.93,237.48 L64.49,240.31 L63.05,246.54 L61.61,256.17 L60.17,271.17 L58.73,294.07 L57.29,322.44 L55.85,342.20Z" fill="rgb(80,200,110)" fill-opacity="0.20"/>
<path d="M62.5,245 L63.5,218 L64.5,214 L65.5,219 L66.5,232 Z" fill="rgb(80,200,110)" fill-opacity="0.25"/>
<g stroke="rgb(220,80,85)" stroke-width="1.2" fill="rgb(242,165,168)"><circle cx="56.35" cy="336.74" r="2.6"/><circle cx="57.25" cy="332.95" r="2.6"/><circle cx="58.00" cy="328.86" r="2.6"/><circle cx="58.70" cy="324.99" r="2.6"/><circle cx="59.35" cy="320.93" r="2.6"/><circle cx="60.00" cy="316.84" r="2.6"/><circle cx="60.60" cy="312.95" r="2.6"/><circle cx="61.20" cy="309.02" r="2.6"/><circle cx="61.80" cy="305.06" r="2.6"/><circle cx="62.40" cy="301.07" r="2.6"/><circle cx="63.00" cy="297.08" r="2.6"/><circle cx="63.60" cy="293.10" r="2.6"/><circle cx="64.20" cy="289.12" r="2.6"/><circle cx="64.80" cy="285.20" r="2.6"/><circle cx="65.40" cy="281.34" r="2.6"/><circle cx="66.05" cy="277.21" r="2.6"/><circle cx="66.70" cy="273.34" r="2.6"/><circle cx="67.35" cy="269.48" r="2.6"/><circle cx="68.10" cy="265.62" r="2.6"/><circle cx="68.90" cy="261.62" r="2.6"/><circle cx="69.90" cy="257.75" r="2.6"/><circle cx="71.20" cy="254.04" r="2.6"/><circle cx="73.50" cy="251.09" r="2.6"/><circle cx="76.40" cy="253.21" r="2.6"/><circle cx="78.05" cy="256.80" r="2.6"/><circle cx="79.35" cy="260.58" r="2.6"/><circle cx="80.50" cy="264.49" r="2.6"/><circle cx="81.50" cy="268.34" r="2.6"/><circle cx="82.45" cy="272.25" r="2.6"/><circle cx="83.35" cy="276.08" r="2.6"/><circle cx="84.25" cy="279.99" r="2.6"/><circle cx="85.15" cy="283.80" r="2.6"/><circle cx="86.10" cy="287.75" r="2.6"/><circle cx="87.15" cy="291.58" r="2.6"/><circle cx="88.35" cy="295.31" r="2.6"/><circle cx="90.00" cy="298.88" r="2.6"/><circle cx="93.10" cy="299.66" r="2.6"/><circle cx="95.25" cy="296.31" r="2.6"/><circle cx="96.80" cy="292.67" r="2.6"/><circle cx="98.15" cy="289.00" r="2.6"/><circle cx="99.45" cy="285.26" r="2.6"/><circle cx="100.75" cy="281.54" r="2.6"/><circle cx="102.10" cy="277.88" r="2.6"/><circle cx="103.60" cy="274.28" r="2.6"/><circle cx="105.45" cy="270.84" r="2.6"/><circle cx="108.25" cy="268.20" r="2.6"/><circle cx="111.90" cy="269.02" r="2.6"/><circle cx="114.75" cy="271.70" r="2.6"/><circle cx="117.40" cy="274.62" r="2.6"/><circle cx="120.10" cy="277.51" r="2.6"/><circle cx="123.05" cy="280.14" r="2.6"/><circle cx="126.40" cy="282.18" r="2.6"/><circle cx="130.25" cy="282.87" r="2.6"/><circle cx="133.95" cy="281.63" r="2.6"/><circle cx="137.00" cy="279.11" r="2.6"/><circle cx="139.75" cy="276.27" r="2.6"/><circle cx="140.00" cy="278.69" r="2.6"/><circle cx="145.00" cy="275.58" r="2.6"/><circle cx="150.00" cy="277.29" r="2.6"/><circle cx="155.00" cy="280.29" r="2.6"/><circle cx="160.00" cy="282.44" r="2.6"/><circle cx="165.00" cy="283.40" r="2.6"/><circle cx="170.00" cy="282.93" r="2.6"/><circle cx="175.00" cy="281.14" r="2.6"/><circle cx="180.00" cy="279.36" r="2.6"/><circle cx="185.00" cy="278.96" r="2.6"/><circle cx="190.00" cy="279.35" r="2.6"/><circle cx="195.00" cy="279.71" r="2.6"/><circle cx="200.00" cy="279.98" r="2.6"/><circle cx="205.00" cy="280.18" r="2.6"/><circle cx="210.00" cy="280.31" r="2.6"/><circle cx="215.00" cy="280.38" r="2.6"/><circle cx="220.00" cy="280.39" r="2.6"/><circle cx="225.00" cy="280.36" r="2.6"/><circle cx="230.00" cy="280.29" r="2.6"/><circle cx="235.00" cy="280.19" r="2.6"/><circle cx="240.00" cy="280.06" r="2.6"/><circle cx="245.00" cy="279.91" r="2.6"/><circle cx="250.00" cy="279.74" r="2.6"/><circle cx="255.00" cy="279.57" r="2.6"/><circle cx="260.00" cy="279.40" r="2.6"/><circle cx="265.00" cy="279.24" r="2.6"/><circle cx="270.00" cy="279.10" r="2.6"/><circle cx="275.00" cy="278.97" r="2.6"/><circle cx="280.00" cy="278.88" r="2.6"/></g>
<g stroke="rgb(50,115,180)" stroke-width="1.2" fill="rgb(140,190,225)"><circle cx="55.45" cy="338.17" r="2.6"/><circle cx="56.70" cy="334.37" r="2.6"/><circle cx="57.60" cy="330.40" r="2.6"/><circle cx="58.45" cy="326.35" r="2.6"/><circle cx="59.20" cy="322.32" r="2.6"/><circle cx="59.90" cy="318.38" r="2.6"/><circle cx="60.55" cy="314.53" r="2.6"/><circle cx="61.20" cy="310.60" r="2.6"/><circle cx="61.85" cy="306.52" r="2.6"/><circle cx="62.50" cy="302.43" r="2.6"/><circle cx="63.10" cy="298.55" r="2.6"/><circle cx="63.70" cy="294.67" r="2.6"/><circle cx="64.30" cy="290.78" r="2.6"/><circle cx="64.90" cy="286.89" r="2.6"/><circle cx="65.55" cy="282.73" r="2.6"/><circle cx="66.20" cy="278.68" r="2.6"/><circle cx="66.85" cy="274.66" r="2.6"/><circle cx="67.55" cy="270.70" r="2.6"/><circle cx="68.25" cy="266.78" r="2.6"/><circle cx="69.15" cy="262.83" r="2.6"/><circle cx="70.20" cy="259.07" r="2.6"/><circle cx="71.85" cy="255.49" r="2.6"/><circle cx="74.90" cy="255.23" r="2.6"/><circle cx="76.90" cy="258.56" r="2.6"/><circle cx="78.30" cy="262.28" r="2.6"/><circle cx="79.45" cy="266.04" r="2.6"/><circle cx="80.50" cy="269.79" r="2.6"/><circle cx="81.50" cy="273.58" r="2.6"/><circle cx="82.50" cy="277.54" r="2.6"/><circle cx="83.45" cy="281.32" r="2.6"/><circle cx="84.45" cy="285.22" r="2.6"/><circle cx="85.50" cy="289.16" r="2.6"/><circle cx="86.65" cy="292.91" r="2.6"/><circle cx="88.05" cy="296.67" r="2.6"/><circle cx="90.15" cy="299.88" r="2.6"/><circle cx="93.25" cy="298.57" r="2.6"/><circle cx="95.15" cy="295.05" r="2.6"/><circle cx="96.65" cy="291.38" r="2.6"/><circle cx="98.05" cy="287.60" r="2.6"/><circle cx="99.40" cy="283.92" r="2.6"/><circle cx="100.85" cy="280.17" r="2.6"/><circle cx="102.40" cy="276.56" r="2.6"/><circle cx="104.20" cy="273.05" r="2.6"/><circle cx="106.70" cy="270.05" r="2.6"/><circle cx="110.35" cy="269.44" r="2.6"/><circle cx="113.55" cy="271.70" r="2.6"/><circle cx="116.30" cy="274.56" r="2.6"/><circle cx="118.95" cy="277.45" r="2.6"/><circle cx="121.80" cy="280.14" r="2.6"/><circle cx="125.10" cy="282.29" r="2.6"/><circle cx="128.85" cy="283.24" r="2.6"/><circle cx="132.60" cy="282.26" r="2.6"/><circle cx="135.70" cy="279.90" r="2.6"/><circle cx="138.45" cy="277.05" r="2.6"/><circle cx="141.80" cy="277.39" r="2.6"/><circle cx="146.80" cy="274.28" r="2.6"/><circle cx="151.80" cy="275.99" r="2.6"/><circle cx="156.80" cy="278.99" r="2.6"/><circle cx="161.80" cy="281.14" r="2.6"/><circle cx="166.80" cy="282.10" r="2.6"/><circle cx="171.80" cy="281.63" r="2.6"/><circle cx="176.80" cy="279.84" r="2.6"/><circle cx="181.80" cy="278.06" r="2.6"/><circle cx="186.80" cy="277.66" r="2.6"/><circle cx="191.80" cy="278.05" r="2.6"/><circle cx="196.80" cy="278.41" r="2.6"/><circle cx="201.80" cy="278.68" r="2.6"/><circle cx="206.80" cy="278.88" r="2.6"/><circle cx="211.80" cy="279.01" r="2.6"/><circle cx="216.80" cy="279.08" r="2.6"/><circle cx="221.80" cy="279.09" r="2.6"/><circle cx="226.80" cy="279.06" r="2.6"/><circle cx="231.80" cy="278.99" r="2.6"/><circle cx="236.80" cy="278.89" r="2.6"/><circle cx="241.80" cy="278.76" r="2.6"/><circle cx="246.80" cy="278.61" r="2.6"/><circle cx="251.80" cy="278.44" r="2.6"/><circle cx="256.80" cy="278.27" r="2.6"/><circle cx="261.80" cy="278.10" r="2.6"/><circle cx="266.80" cy="277.94" r="2.6"/><circle cx="271.80" cy="277.80" r="2.6"/><circle cx="276.80" cy="277.67" r="2.6"/><circle cx="281.80" cy="277.58" r="2.6"/></g>
<path d="M55.85,338.99C56.09,337.46 56.81,333.17 57.29,329.84C57.77,326.50 58.25,322.70 58.73,318.99C59.21,315.27 59.69,311.30 60.17,307.55C60.65,303.79 61.13,300.07 61.61,296.46C62.09,292.86 62.57,289.34 63.05,285.92C63.53,282.50 64.01,279.13 64.49,275.94C64.97,272.74 65.45,269.60 65.93,266.77C66.41,263.94 66.89,261.26 67.37,258.97C67.85,256.67 68.33,254.69 68.82,252.99C69.30,251.29 69.78,249.91 70.26,248.76C70.74,247.61 71.22,246.74 71.70,246.10C72.18,245.46 72.66,245.07 73.14,244.91C73.62,244.75 74.10,244.83 74.58,245.12C75.06,245.41 75.54,245.93 76.02,246.65C76.50,247.36 76.98,248.29 77.46,249.40C77.94,250.51 78.42,251.82 78.90,253.30C79.38,254.78 79.86,256.45 80.34,258.27C80.82,260.09 81.30,262.09 81.78,264.21C82.26,266.34 82.74,268.68 83.22,271.01C83.70,273.34 84.18,275.84 84.66,278.20C85.14,280.57 85.62,283.00 86.10,285.21C86.58,287.42 87.06,289.60 87.54,291.46C88.02,293.32 88.50,295.05 88.98,296.38C89.46,297.70 89.94,298.72 90.42,299.40C90.90,300.08 91.38,300.38 91.86,300.45C92.34,300.51 92.82,300.24 93.30,299.80C93.78,299.35 94.27,298.61 94.75,297.75C95.23,296.88 95.71,295.79 96.19,294.61C96.67,293.43 97.15,292.06 97.63,290.66C98.11,289.27 98.59,287.74 99.07,286.22C99.55,284.71 100.03,283.11 100.51,281.59C100.99,280.06 101.47,278.50 101.95,277.06C102.43,275.62 102.91,274.19 103.39,272.94C103.87,271.69 104.35,270.51 104.83,269.54C105.31,268.58 105.79,267.76 106.27,267.16C106.75,266.56 107.23,266.19 107.71,265.96C108.19,265.72 108.67,265.70 109.15,265.77C109.63,265.84 110.11,266.07 110.59,266.37C111.07,266.67 111.55,267.11 112.03,267.57C112.51,268.03 112.99,268.58 113.47,269.13C113.95,269.68 114.43,270.28 114.91,270.85C115.39,271.42 115.87,271.99 116.35,272.55C116.83,273.11 117.31,273.66 117.79,274.19C118.27,274.72 118.75,275.24 119.23,275.74C119.72,276.24 120.20,276.72 120.68,277.18C121.16,277.64 121.64,278.08 122.12,278.49C122.60,278.90 123.08,279.29 123.56,279.65C124.04,280.00 124.52,280.33 125.00,280.62C125.48,280.92 125.96,281.18 126.44,281.40C126.92,281.62 127.40,281.81 127.88,281.96C128.36,282.10 128.84,282.21 129.32,282.27C129.80,282.32 130.28,282.34 130.76,282.31C131.24,282.27 131.72,282.20 132.20,282.06C132.68,281.93 133.16,281.74 133.64,281.50C134.12,281.26 134.60,280.96 135.08,280.61C135.56,280.26 136.04,279.84 136.52,279.41C137.00,278.98 137.48,278.50 137.96,278.02C138.44,277.54 138.92,277.02 139.40,276.53C139.88,276.03 140.36,275.52 140.84,275.05C141.32,274.58 141.80,274.11 142.28,273.69C142.76,273.28 143.24,272.88 143.72,272.55C144.20,272.23 144.68,271.94 145.17,271.75C145.65,271.55 146.13,271.42 146.61,271.37C147.09,271.32 147.57,271.36 148.05,271.44C148.53,271.52 149.01,271.68 149.49,271.87C149.97,272.05 150.45,272.29 150.93,272.54C151.41,272.79 151.89,273.08 152.37,273.36C152.85,273.65 153.33,273.95 153.81,274.25C154.29,274.55 154.77,274.87 155.25,275.17C155.73,275.48 156.21,275.79 156.69,276.08C157.17,276.38 157.65,276.67 158.13,276.95C158.61,277.22 159.09,277.49 159.57,277.73C160.05,277.97 160.53,278.20 161.01,278.40C161.49,278.59 161.97,278.77 162.45,278.91C162.93,279.05 163.41,279.16 163.89,279.23C164.37,279.30 164.85,279.34 165.33,279.34C165.81,279.34 166.29,279.31 166.77,279.25C167.25,279.20 167.73,279.11 168.21,279.01C168.69,278.91 169.17,278.79 169.65,278.65C170.13,278.52 170.62,278.37 171.10,278.22C171.58,278.07 172.06,277.90 172.54,277.74C173.02,277.57 173.50,277.40 173.98,277.23C174.46,277.06 174.94,276.89 175.42,276.72C175.90,276.55 176.38,276.38 176.86,276.23C177.34,276.07 177.82,275.91 178.30,275.77C178.78,275.63 179.26,275.50 179.74,275.39C180.22,275.27 180.70,275.17 181.18,275.09C181.66,275.01 182.14,274.94 182.62,274.90C183.10,274.86 183.58,274.84 184.06,274.83C184.54,274.82 185.02,274.84 185.50,274.86C185.98,274.88 186.46,274.91 186.94,274.95C187.42,274.98 187.90,275.03 188.38,275.06C188.86,275.10 189.34,275.14 189.82,275.18C190.30,275.22 190.78,275.26 191.26,275.29C191.74,275.33 192.22,275.36 192.70,275.40C193.18,275.43 193.66,275.46 194.14,275.49C194.62,275.52 195.10,275.55 195.58,275.58C196.07,275.61 196.55,275.64 197.03,275.67C197.51,275.70 197.99,275.72 198.47,275.75C198.95,275.77 199.43,275.80 199.91,275.82C200.39,275.84 200.87,275.86 201.35,275.89C201.83,275.91 202.31,275.93 202.79,275.95C203.27,275.97 203.75,275.98 204.23,276.00C204.71,276.02 205.19,276.03 205.67,276.05C206.15,276.07 206.63,276.08 207.11,276.10C207.59,276.11 208.07,276.12 208.55,276.13C209.03,276.15 209.51,276.16 209.99,276.17C210.47,276.18 210.95,276.19 211.43,276.20C211.91,276.21 212.39,276.22 212.87,276.22C213.35,276.23 213.83,276.24 214.31,276.24C214.79,276.25 215.27,276.26 215.75,276.26C216.23,276.27 216.71,276.27 217.19,276.27C217.67,276.28 218.15,276.28 218.63,276.28C219.11,276.28 219.59,276.28 220.07,276.28C220.55,276.29 221.03,276.29 221.52,276.29C222.00,276.28 222.48,276.28 222.96,276.28C223.44,276.28 223.92,276.28 224.40,276.28C224.88,276.27 225.36,276.27 225.84,276.27C226.32,276.26 226.80,276.26 227.28,276.25C227.76,276.25 228.24,276.24 228.72,276.24C229.20,276.23 229.68,276.22 230.16,276.22C230.64,276.21 231.12,276.20 231.60,276.20C232.08,276.19 232.56,276.18 233.04,276.17C233.52,276.16 234.00,276.16 234.48,276.15C234.96,276.14 235.44,276.13 235.92,276.12C236.40,276.11 236.88,276.10 237.36,276.09C237.84,276.08 238.32,276.07 238.80,276.06C239.28,276.04 239.76,276.03 240.24,276.02C240.72,276.01 241.20,276.00 241.68,275.99C242.16,275.97 242.64,275.96 243.12,275.95C243.60,275.94 244.08,275.92 244.56,275.91C245.04,275.90 245.52,275.88 246.00,275.87C246.48,275.86 246.97,275.84 247.45,275.83C247.93,275.82 248.41,275.80 248.89,275.79C249.37,275.77 249.85,275.76 250.33,275.75C250.81,275.73 251.29,275.72 251.77,275.70C252.25,275.69 252.73,275.67 253.21,275.66C253.69,275.65 254.17,275.63 254.65,275.62C255.13,275.60 255.61,275.59 256.09,275.57C256.57,275.56 257.05,275.54 257.53,275.53C258.01,275.52 258.49,275.50 258.97,275.49C259.45,275.47 259.93,275.46 260.41,275.44C260.89,275.43 261.37,275.42 261.85,275.40C262.33,275.39 262.81,275.37 263.29,275.36C263.77,275.35 264.25,275.33 264.73,275.32C265.21,275.31 265.69,275.29 266.17,275.28C266.65,275.27 267.13,275.25 267.61,275.24C268.09,275.23 268.57,275.22 269.05,275.20C269.53,275.19 270.01,275.18 270.49,275.17C270.97,275.16 271.45,275.15 271.93,275.13C272.42,275.12 272.90,275.11 273.38,275.10C273.86,275.09 274.34,275.08 274.82,275.07C275.30,275.06 275.78,275.05 276.26,275.04C276.74,275.03 277.22,275.02 277.70,275.02C278.18,275.01 278.66,275.00 279.14,274.99C279.62,274.98 280.10,274.98 280.58,274.97C281.06,274.96 281.54,274.96 282.02,274.95C282.50,274.95 282.98,274.94 283.46,274.94C283.94,274.93 284.66,274.93 284.90,274.92" stroke="rgb(195,25,25)" stroke-width="1.8" fill="none"/>
<path d="M55.85,338.69C56.09,338.31 56.81,337.49 57.29,336.37C57.77,335.24 58.25,333.70 58.73,331.94C59.21,330.18 59.69,328.08 60.17,325.81C60.65,323.54 61.13,320.99 61.61,318.35C62.09,315.71 62.57,312.85 63.05,309.95C63.53,307.04 64.01,303.98 64.49,300.91C64.97,297.83 65.45,294.65 65.93,291.50C66.41,288.35 66.89,285.10 67.37,282.00C67.85,278.90 68.33,275.63 68.82,272.91C69.30,270.19 69.78,267.66 70.26,265.68C70.74,263.70 71.22,262.19 71.70,261.02C72.18,259.85 72.66,259.11 73.14,258.66C73.62,258.20 74.10,258.13 74.58,258.29C75.06,258.45 75.54,258.94 76.02,259.61C76.50,260.29 76.98,261.24 77.46,262.33C77.94,263.41 78.42,264.73 78.90,266.13C79.38,267.53 79.86,269.11 80.34,270.71C80.82,272.32 81.30,274.06 81.78,275.78C82.26,277.50 82.74,279.29 83.22,281.02C83.70,282.75 84.18,284.50 84.66,286.14C85.14,287.78 85.62,289.40 86.10,290.86C86.58,292.32 87.06,293.71 87.54,294.90C88.02,296.09 88.50,297.17 88.98,298.00C89.46,298.83 89.94,299.50 90.42,299.89C90.90,300.27 91.38,300.41 91.86,300.30C92.34,300.19 92.82,299.78 93.30,299.23C93.78,298.68 94.27,297.87 94.75,296.98C95.23,296.09 95.71,295.01 96.19,293.90C96.67,292.78 97.15,291.53 97.63,290.31C98.11,289.08 98.59,287.78 99.07,286.55C99.55,285.33 100.03,284.10 100.51,282.96C100.99,281.82 101.47,280.73 101.95,279.71C102.43,278.70 102.91,277.74 103.39,276.87C103.87,276.00 104.35,275.19 104.83,274.48C105.31,273.77 105.79,273.14 106.27,272.60C106.75,272.07 107.23,271.62 107.71,271.29C108.19,270.95 108.67,270.72 109.15,270.59C109.63,270.46 110.11,270.45 110.59,270.51C111.07,270.58 111.55,270.75 112.03,270.98C112.51,271.21 112.99,271.53 113.47,271.88C113.95,272.23 114.43,272.66 114.91,273.11C115.39,273.55 115.87,274.06 116.35,274.56C116.83,275.06 117.31,275.61 117.79,276.13C118.27,276.66 118.75,277.20 119.23,277.72C119.72,278.23 120.20,278.75 120.68,279.22C121.16,279.68 121.64,280.13 122.12,280.53C122.60,280.94 123.08,281.31 123.56,281.64C124.04,281.97 124.52,282.27 125.00,282.52C125.48,282.78 125.96,282.99 126.44,283.16C126.92,283.34 127.40,283.47 127.88,283.55C128.36,283.64 128.84,283.68 129.32,283.67C129.80,283.66 130.28,283.61 130.76,283.51C131.24,283.40 131.72,283.25 132.20,283.04C132.68,282.84 133.16,282.58 133.64,282.27C134.12,281.96 134.60,281.58 135.08,281.17C135.56,280.76 136.04,280.29 136.52,279.81C137.00,279.34 137.48,278.81 137.96,278.30C138.44,277.79 138.92,277.25 139.40,276.74C139.88,276.23 140.36,275.71 140.84,275.24C141.32,274.76 141.80,274.30 142.28,273.89C142.76,273.49 143.24,273.11 143.72,272.81C144.20,272.52 144.68,272.26 145.17,272.11C145.65,271.95 146.13,271.87 146.61,271.88C147.09,271.89 147.57,272.00 148.05,272.15C148.53,272.30 149.01,272.54 149.49,272.79C149.97,273.03 150.45,273.34 150.93,273.64C151.41,273.94 151.89,274.27 152.37,274.57C152.85,274.87 153.33,275.18 153.81,275.46C154.29,275.75 154.77,276.03 155.25,276.29C155.73,276.56 156.21,276.81 156.69,277.05C157.17,277.29 157.65,277.52 158.13,277.73C158.61,277.95 159.09,278.15 159.57,278.33C160.05,278.52 160.53,278.69 161.01,278.84C161.49,279.00 161.97,279.14 162.45,279.26C162.93,279.38 163.41,279.48 163.89,279.57C164.37,279.65 164.85,279.72 165.33,279.76C165.81,279.81 166.29,279.84 166.77,279.85C167.25,279.85 167.73,279.84 168.21,279.80C168.69,279.77 169.17,279.71 169.65,279.63C170.13,279.54 170.62,279.44 171.10,279.31C171.58,279.19 172.06,279.04 172.54,278.88C173.02,278.72 173.50,278.54 173.98,278.35C174.46,278.17 174.94,277.97 175.42,277.78C175.90,277.58 176.38,277.38 176.86,277.19C177.34,277.00 177.82,276.80 178.30,276.62C178.78,276.45 179.26,276.27 179.74,276.12C180.22,275.97 180.70,275.83 181.18,275.71C181.66,275.60 182.14,275.51 182.62,275.44C183.10,275.38 183.58,275.34 184.06,275.32C184.54,275.30 185.02,275.31 185.50,275.33C185.98,275.34 186.46,275.38 186.94,275.41C187.42,275.45 187.90,275.49 188.38,275.53C188.86,275.58 189.34,275.62 189.82,275.66C190.30,275.70 190.78,275.74 191.26,275.77C191.74,275.81 192.22,275.85 192.70,275.88C193.18,275.92 193.66,275.95 194.14,275.99C194.62,276.02 195.10,276.05 195.58,276.08C196.07,276.11 196.55,276.14 197.03,276.17C197.51,276.20 197.99,276.23 198.47,276.25C198.95,276.28 199.43,276.30 199.91,276.33C200.39,276.35 200.87,276.37 201.35,276.40C201.83,276.42 202.31,276.44 202.79,276.46C203.27,276.48 203.75,276.50 204.23,276.52C204.71,276.53 205.19,276.55 205.67,276.57C206.15,276.58 206.63,276.60 207.11,276.61C207.59,276.63 208.07,276.64 208.55,276.65C209.03,276.66 209.51,276.68 209.99,276.69C210.47,276.70 210.95,276.71 211.43,276.72C211.91,276.73 212.39,276.73 212.87,276.74C213.35,276.75 213.83,276.76 214.31,276.76C214.79,276.77 215.27,276.77 215.75,276.78C216.23,276.78 216.71,276.78 217.19,276.79C217.67,276.79 218.15,276.79 218.63,276.79C219.11,276.79 219.59,276.79 220.07,276.80C220.55,276.80 221.03,276.79 221.52,276.79C222.00,276.79 222.48,276.79 222.96,276.79C223.44,276.78 223.92,276.78 224.40,276.78C224.88,276.77 225.36,276.77 225.84,276.76C226.32,276.76 226.80,276.75 227.28,276.75C227.76,276.74 228.24,276.74 228.72,276.73C229.20,276.72 229.68,276.71 230.16,276.71C230.64,276.70 231.12,276.69 231.60,276.68C232.08,276.67 232.56,276.66 233.04,276.65C233.52,276.64 234.00,276.63 234.48,276.62C234.96,276.61 235.44,276.60 235.92,276.59C236.40,276.58 236.88,276.57 237.36,276.55C237.84,276.54 238.32,276.53 238.80,276.52C239.28,276.50 239.76,276.49 240.24,276.48C240.72,276.46 241.20,276.45 241.68,276.44C242.16,276.42 242.64,276.41 243.12,276.39C243.60,276.38 244.08,276.37 244.56,276.35C245.04,276.34 245.52,276.32 246.00,276.31C246.48,276.29 246.97,276.28 247.45,276.26C247.93,276.24 248.41,276.23 248.89,276.21C249.37,276.20 249.85,276.18 250.33,276.17C250.81,276.15 251.29,276.13 251.77,276.12C252.25,276.10 252.73,276.08 253.21,276.07C253.69,276.05 254.17,276.04 254.65,276.02C255.13,276.00 255.61,275.99 256.09,275.97C256.57,275.95 257.05,275.94 257.53,275.92C258.01,275.91 258.49,275.89 258.97,275.87C259.45,275.86 259.93,275.84 260.41,275.82C260.89,275.81 261.37,275.79 261.85,275.78C262.33,275.76 262.81,275.75 263.29,275.73C263.77,275.71 264.25,275.70 264.73,275.68C265.21,275.67 265.69,275.65 266.17,275.64C266.65,275.62 267.13,275.61 267.61,275.59C268.09,275.58 268.57,275.57 269.05,275.55C269.53,275.54 270.01,275.52 270.49,275.51C270.97,275.50 271.45,275.48 271.93,275.47C272.42,275.46 272.90,275.45 273.38,275.43C273.86,275.42 274.34,275.41 274.82,275.40C275.30,275.39 275.78,275.38 276.26,275.37C276.74,275.36 277.22,275.35 277.70,275.34C278.18,275.33 278.66,275.32 279.14,275.31C279.62,275.30 280.10,275.29 280.58,275.28C281.06,275.27 281.54,275.27 282.02,275.26C282.50,275.25 282.98,275.25 283.46,275.24C283.94,275.23 284.66,275.23 284.90,275.22" stroke="rgb(15,15,225)" stroke-width="1.8" fill="none"/>
<g stroke="rgb(60,180,70)" stroke-width="1.2" fill="rgb(170,228,178)"><circle cx="55.80" cy="338.70" r="2.6"/><circle cx="56.70" cy="329.90" r="2.6"/><circle cx="57.80" cy="323.20" r="2.6"/><circle cx="58.90" cy="309.90" r="2.6"/><circle cx="58.90" cy="297.60" r="2.6"/><circle cx="59.90" cy="285.90" r="2.6"/><circle cx="60.80" cy="290.80" r="2.6"/><circle cx="60.80" cy="276.00" r="2.6"/><circle cx="59.90" cy="271.10" r="2.6"/><circle cx="60.80" cy="263.30" r="2.6"/><circle cx="60.80" cy="258.30" r="2.6"/><circle cx="61.80" cy="250.50" r="2.6"/><circle cx="61.80" cy="246.60" r="2.6"/><circle cx="62.80" cy="242.60" r="2.6"/><circle cx="63.80" cy="247.50" r="2.6"/><circle cx="63.80" cy="241.60" r="2.6"/><circle cx="64.20" cy="237.70" r="2.6"/><circle cx="64.80" cy="229.90" r="2.6"/><circle cx="65.80" cy="234.80" r="2.6"/><circle cx="66.70" cy="239.70" r="2.6"/><circle cx="67.70" cy="243.60" r="2.6"/><circle cx="69.70" cy="259.30" r="2.6"/><circle cx="70.70" cy="264.20" r="2.6"/><circle cx="69.70" cy="269.20" r="2.6"/><circle cx="71.60" cy="274.10" r="2.6"/><circle cx="71.60" cy="279.00" r="2.6"/><circle cx="72.60" cy="284.90" r="2.6"/><circle cx="73.60" cy="290.80" r="2.6"/><circle cx="74.60" cy="297.60" r="2.6"/><circle cx="75.50" cy="305.50" r="2.6"/><circle cx="76.60" cy="312.10" r="2.6"/><circle cx="77.70" cy="317.70" r="2.6"/><circle cx="78.80" cy="322.10" r="2.6"/><circle cx="80.60" cy="325.40" r="2.6"/><circle cx="83.30" cy="333.20" r="2.6"/><circle cx="85.50" cy="342.10" r="2.6"/><circle cx="89.90" cy="345.00" r="2.6"/><circle cx="94.30" cy="341.40" r="2.6"/><circle cx="99.90" cy="332.10" r="2.6"/><circle cx="104.30" cy="328.10" r="2.6"/><circle cx="108.10" cy="327.20" r="2.6"/><circle cx="112.10" cy="329.40" r="2.6"/><circle cx="116.50" cy="333.20" r="2.6"/><circle cx="121.00" cy="336.50" r="2.6"/><circle cx="126.50" cy="340.50" r="2.6"/><circle cx="131.10" cy="338.60" r="2.6"/><circle cx="135.00" cy="336.40" r="2.6"/><circle cx="140.30" cy="334.10" r="2.6"/><circle cx="145.60" cy="332.90" r="2.6"/><circle cx="150.60" cy="334.10" r="2.6"/><circle cx="155.20" cy="336.40" r="2.6"/><circle cx="159.80" cy="338.00" r="2.6"/><circle cx="164.40" cy="338.00" r="2.6"/><circle cx="169.00" cy="337.50" r="2.6"/><circle cx="174.70" cy="337.00" r="2.6"/><circle cx="179.30" cy="336.40" r="2.6"/><circle cx="183.90" cy="335.20" r="2.6"/><circle cx="188.40" cy="334.80" r="2.6"/><circle cx="193.70" cy="335.20" r="2.6"/><circle cx="198.30" cy="336.40" r="2.6"/><circle cx="202.90" cy="338.60" r="2.6"/><circle cx="206.80" cy="338.60" r="2.6"/><circle cx="211.40" cy="338.60" r="2.6"/><circle cx="216.00" cy="338.00" r="2.6"/><circle cx="220.50" cy="336.40" r="2.6"/><circle cx="225.10" cy="335.70" r="2.6"/><circle cx="229.70" cy="336.40" r="2.6"/><circle cx="234.30" cy="336.40" r="2.6"/><circle cx="238.90" cy="337.00" r="2.6"/><circle cx="243.50" cy="336.40" r="2.6"/><circle cx="248.00" cy="335.70" r="2.6"/><circle cx="252.60" cy="335.70" r="2.6"/><circle cx="257.20" cy="335.70" r="2.6"/><circle cx="261.80" cy="337.00" r="2.6"/><circle cx="266.40" cy="338.00" r="2.6"/><circle cx="271.00" cy="338.00" r="2.6"/><circle cx="275.50" cy="338.60" r="2.6"/><circle cx="280.10" cy="338.60" r="2.6"/></g>
<path d="M55.85,339.20C56.09,335.88 56.81,327.37 57.29,319.30C57.77,311.23 58.25,299.36 58.73,290.77C59.21,282.17 59.69,274.08 60.17,267.71C60.65,261.34 61.13,256.71 61.61,252.55C62.09,248.39 62.57,245.46 63.05,242.76C63.53,240.06 64.01,237.92 64.49,236.37C64.97,234.82 65.45,233.53 65.93,233.48C66.41,233.43 66.89,234.39 67.37,236.06C67.85,237.72 68.33,240.67 68.82,243.47C69.30,246.28 69.78,249.54 70.26,252.88C70.74,256.23 71.22,259.83 71.70,263.53C72.18,267.23 72.66,271.19 73.14,275.09C73.62,278.99 74.10,283.12 74.58,286.94C75.06,290.76 75.54,294.60 76.02,298.01C76.50,301.41 76.98,304.52 77.46,307.36C77.94,310.19 78.42,312.69 78.90,315.04C79.38,317.39 79.86,319.48 80.34,321.45C80.82,323.43 81.30,325.20 81.78,326.90C82.26,328.61 82.74,330.17 83.22,331.70C83.70,333.22 84.18,334.71 84.66,336.05C85.14,337.39 85.62,338.67 86.10,339.74C86.58,340.81 87.06,341.74 87.54,342.46C88.02,343.19 88.50,343.73 88.98,344.09C89.46,344.45 89.94,344.63 90.42,344.64C90.90,344.65 91.38,344.48 91.86,344.14C92.34,343.81 92.82,343.29 93.30,342.62C93.78,341.94 94.27,341.07 94.75,340.08C95.23,339.10 95.71,337.91 96.19,336.70C96.67,335.49 97.15,334.13 97.63,332.83C98.11,331.52 98.59,330.14 99.07,328.85C99.55,327.56 100.03,326.27 100.51,325.09C100.99,323.91 101.47,322.78 101.95,321.77C102.43,320.77 102.91,319.84 103.39,319.07C103.87,318.31 104.35,317.64 104.83,317.18C105.31,316.72 105.79,316.39 106.27,316.29C106.75,316.18 107.23,316.28 107.71,316.54C108.19,316.79 108.67,317.25 109.15,317.81C109.63,318.37 110.11,319.10 110.59,319.89C111.07,320.68 111.55,321.60 112.03,322.54C112.51,323.48 112.99,324.52 113.47,325.54C113.95,326.56 114.43,327.64 114.91,328.67C115.39,329.69 115.87,330.74 116.35,331.70C116.83,332.66 117.31,333.61 117.79,334.44C118.27,335.28 118.75,336.05 119.23,336.70C119.72,337.36 120.20,337.91 120.68,338.38C121.16,338.85 121.64,339.22 122.12,339.52C122.60,339.82 123.08,340.03 123.56,340.19C124.04,340.34 124.52,340.41 125.00,340.43C125.48,340.45 125.96,340.40 126.44,340.31C126.92,340.22 127.40,340.07 127.88,339.89C128.36,339.71 128.84,339.47 129.32,339.22C129.80,338.96 130.28,338.66 130.76,338.35C131.24,338.04 131.72,337.70 132.20,337.35C132.68,337.01 133.16,336.64 133.64,336.28C134.12,335.92 134.60,335.54 135.08,335.18C135.56,334.83 136.04,334.46 136.52,334.13C137.00,333.79 137.48,333.46 137.96,333.16C138.44,332.86 138.92,332.57 139.40,332.32C139.88,332.08 140.36,331.85 140.84,331.67C141.32,331.49 141.80,331.34 142.28,331.24C142.76,331.15 143.24,331.09 143.72,331.09C144.20,331.09 144.68,331.14 145.17,331.26C145.65,331.38 146.13,331.55 146.61,331.79C147.09,332.04 147.57,332.37 148.05,332.73C148.53,333.10 149.01,333.55 149.49,333.98C149.97,334.42 150.45,334.92 150.93,335.36C151.41,335.81 151.89,336.28 152.37,336.67C152.85,337.07 153.33,337.43 153.81,337.73C154.29,338.03 154.77,338.27 155.25,338.48C155.73,338.68 156.21,338.83 156.69,338.95C157.17,339.08 157.65,339.15 158.13,339.20C158.61,339.25 159.09,339.26 159.57,339.26C160.05,339.25 160.53,339.21 161.01,339.16C161.49,339.10 161.97,339.03 162.45,338.94C162.93,338.86 163.41,338.76 163.89,338.65C164.37,338.55 164.85,338.44 165.33,338.33C165.81,338.22 166.29,338.11 166.77,338.01C167.25,337.90 167.73,337.81 168.21,337.72C168.69,337.63 169.17,337.54 169.65,337.47C170.13,337.39 170.62,337.32 171.10,337.25C171.58,337.18 172.06,337.12 172.54,337.07C173.02,337.01 173.50,336.96 173.98,336.92C174.46,336.87 174.94,336.83 175.42,336.79C175.90,336.76 176.38,336.73 176.86,336.70C177.34,336.67 177.82,336.65 178.30,336.63C178.78,336.61 179.26,336.60 179.74,336.58C180.22,336.57 180.70,336.56 181.18,336.56C181.66,336.55 182.14,336.55 182.62,336.55C183.10,336.55 183.58,336.56 184.06,336.56C184.54,336.57 185.02,336.58 185.50,336.59C185.98,336.60 186.46,336.61 186.94,336.63C187.42,336.64 187.90,336.66 188.38,336.67C188.86,336.69 189.34,336.71 189.82,336.73C190.30,336.75 190.78,336.77 191.26,336.80C191.74,336.82 192.22,336.84 192.70,336.86C193.18,336.89 193.66,336.91 194.14,336.94C194.62,336.96 195.10,336.98 195.58,337.01C196.07,337.03 196.55,337.05 197.03,337.08C197.51,337.10 197.99,337.13 198.47,337.15C198.95,337.17 199.43,337.20 199.91,337.22C200.39,337.24 200.87,337.27 201.35,337.29C201.83,337.31 202.31,337.34 202.79,337.36C203.27,337.38 203.75,337.40 204.23,337.42C204.71,337.45 205.19,337.47 205.67,337.49C206.15,337.51 206.63,337.53 207.11,337.55C207.59,337.57 208.07,337.59 208.55,337.61C209.03,337.63 209.51,337.65 209.99,337.67C210.47,337.69 210.95,337.71 211.43,337.73C211.91,337.74 212.39,337.76 212.87,337.78C213.35,337.80 213.83,337.81 214.31,337.83C214.79,337.84 215.27,337.86 215.75,337.87C216.23,337.89 216.71,337.90 217.19,337.91C217.67,337.93 218.15,337.94 218.63,337.95C219.11,337.96 219.59,337.97 220.07,337.98C220.55,337.99 221.03,338.00 221.52,338.01C222.00,338.01 222.48,338.02 222.96,338.03C223.44,338.03 223.92,338.04 224.40,338.04C224.88,338.05 225.36,338.05 225.84,338.05C226.32,338.06 226.80,338.06 227.28,338.06C227.76,338.06 228.24,338.06 228.72,338.06C229.20,338.06 229.68,338.06 230.16,338.06C230.64,338.06 231.12,338.06 231.60,338.06C232.08,338.06 232.56,338.06 233.04,338.05C233.52,338.05 234.00,338.05 234.48,338.05C234.96,338.04 235.44,338.04 235.92,338.04C236.40,338.03 236.88,338.03 237.36,338.02C237.84,338.02 238.32,338.02 238.80,338.01C239.28,338.01 239.76,338.00 240.24,338.00C240.72,337.99 241.20,337.99 241.68,337.98C242.16,337.98 242.64,337.97 243.12,337.97C243.60,337.96 244.08,337.96 244.56,337.95C245.04,337.95 245.52,337.95 246.00,337.94C246.48,337.94 246.97,337.93 247.45,337.93C247.93,337.93 248.41,337.92 248.89,337.92C249.37,337.92 249.85,337.91 250.33,337.91C250.81,337.91 251.29,337.91 251.77,337.90C252.25,337.90 252.73,337.90 253.21,337.90C253.69,337.90 254.17,337.90 254.65,337.90C255.13,337.90 255.61,337.90 256.09,337.90C256.57,337.90 257.05,337.91 257.53,337.91C258.01,337.91 258.49,337.92 258.97,337.92C259.45,337.93 259.93,337.93 260.41,337.94C260.89,337.94 261.37,337.95 261.85,337.96C262.33,337.97 262.81,337.97 263.29,337.98C263.77,337.99 264.25,338.00 264.73,338.02C265.21,338.03 265.69,338.04 266.17,338.05C266.65,338.07 267.13,338.08 267.61,338.10C268.09,338.11 268.57,338.13 269.05,338.15C269.53,338.17 270.01,338.19 270.49,338.21C270.97,338.23 271.45,338.25 271.93,338.27C272.42,338.30 272.90,338.32 273.38,338.35C273.86,338.38 274.34,338.40 274.82,338.43C275.30,338.46 275.78,338.49 276.26,338.52C276.74,338.56 277.22,338.59 277.70,338.63C278.18,338.66 278.66,338.70 279.14,338.74C279.62,338.77 280.10,338.81 280.58,338.86C281.06,338.90 281.54,338.94 282.02,338.99C282.50,339.03 282.98,339.08 283.46,339.13C283.94,339.18 284.66,339.26 284.90,339.28" stroke="rgb(60,190,45)" stroke-width="1.6" fill="none"/>
</g>
<circle cx="227" cy="291.2" r="3.3" stroke="rgb(220,80,85)" stroke-width="2.0" fill="rgb(242,165,168)"/><text x="235.5" y="297.0" font-size="14.5">Π</text><circle cx="227" cy="308.6" r="3.3" stroke="rgb(50,115,180)" stroke-width="2.0" fill="rgb(140,190,225)"/><text x="235.5" y="314.4" font-size="14.5">Φ</text><circle cx="227" cy="326.0" r="3.3" stroke="rgb(60,180,70)" stroke-width="2.0" fill="rgb(170,228,178)"/><text x="235.5" y="331.8" font-size="14.5">dS/dt</text>
<clipPath id="cd"><rect x="406.3" y="212.45" width="235.05" height="144.8"/></clipPath>
<g clip-path="url(#cd)">
<path d="M438.00,290.00C438.50,287.00 440.00,276.67 441.00,272.00C442.00,267.33 443.08,265.33 444.00,262.00C444.92,258.67 445.67,252.33 446.50,252.00C447.33,251.67 448.08,257.00 449.00,260.00C449.92,263.00 451.00,266.33 452.00,270.00C453.00,273.67 454.00,278.33 455.00,282.00C456.00,285.67 456.83,289.33 458.00,292.00C459.17,294.67 460.67,296.67 462.00,298.00C463.33,299.33 464.67,300.17 466.00,300.00C467.33,299.83 468.67,298.67 470.00,297.00C471.33,295.33 472.83,292.33 474.00,290.00C475.17,287.67 476.00,285.80 477.00,283.00C478.00,280.20 478.67,273.70 480.00,273.20C481.33,272.70 483.23,277.80 485.00,280.00C486.77,282.20 488.35,284.88 490.60,286.40C492.85,287.92 495.85,289.53 498.50,289.10C501.15,288.67 503.85,284.68 506.50,283.80C509.15,282.92 511.77,282.92 514.40,283.80C517.03,284.68 519.70,288.07 522.30,289.10C524.90,290.13 527.35,290.00 530.00,290.00C532.65,290.00 535.52,289.70 538.20,289.10C540.88,288.50 543.45,286.18 546.10,286.40C548.75,286.62 551.45,289.30 554.10,290.40C556.75,291.50 559.25,293.43 562.00,293.00C564.75,292.57 567.40,288.23 570.60,287.80C573.80,287.37 577.68,289.75 581.20,290.40C584.72,291.05 588.18,292.10 591.70,291.70C595.22,291.30 598.77,289.10 602.30,288.00C605.83,286.90 609.37,286.02 612.90,285.10C616.43,284.18 619.97,282.93 623.50,282.50C627.03,282.07 631.85,282.25 634.10,282.50C636.35,282.75 636.52,283.75 637.00,284.00L637.00,306.00C636.52,306.70 636.35,308.83 634.10,310.20C631.85,311.57 627.03,313.32 623.50,314.20C619.97,315.08 616.43,315.72 612.90,315.50C609.37,315.28 605.83,312.67 602.30,312.90C598.77,313.13 595.22,316.90 591.70,316.90C588.18,316.90 584.72,314.45 581.20,312.90C577.68,311.35 574.13,308.92 570.60,307.60C567.07,306.28 563.20,304.12 560.00,305.00C556.80,305.88 554.15,310.92 551.40,312.90C548.65,314.88 546.13,316.23 543.50,316.90C540.87,317.57 538.25,317.57 535.60,316.90C532.95,316.23 530.25,314.02 527.60,312.90C524.95,311.78 522.35,310.20 519.70,310.20C517.05,310.20 514.35,311.35 511.70,312.90C509.05,314.45 506.43,319.07 503.80,319.50C501.17,319.93 498.55,317.48 495.90,315.50C493.25,313.52 490.22,310.18 487.90,307.60C485.58,305.02 483.65,299.60 482.00,300.00C480.35,300.40 479.33,306.67 478.00,310.00C476.67,313.33 475.33,317.33 474.00,320.00C472.67,322.67 471.33,324.50 470.00,326.00C468.67,327.50 467.33,329.00 466.00,329.00C464.67,329.00 463.33,327.83 462.00,326.00C460.67,324.17 459.17,321.00 458.00,318.00C456.83,315.00 456.00,312.33 455.00,308.00C454.00,303.67 453.00,296.33 452.00,292.00C451.00,287.67 450.00,284.00 449.00,282.00C448.00,280.00 447.00,279.67 446.00,280.00C445.00,280.33 444.00,281.00 443.00,284.00C442.00,287.00 440.50,295.67 440.00,298.00Z" fill="rgb(240,220,185)" fill-opacity="0.38"/>
<path d="M425.00,224.00C425.50,222.67 427.00,217.83 428.00,216.00C429.00,214.17 430.00,212.67 431.00,213.00C432.00,213.33 433.00,214.83 434.00,218.00C435.00,221.17 436.00,227.33 437.00,232.00C438.00,236.67 438.83,240.00 440.00,246.00C441.17,252.00 442.83,263.00 444.00,268.00C445.17,273.00 446.00,275.33 447.00,276.00C448.00,276.67 448.83,275.00 450.00,272.00C451.17,269.00 452.67,263.33 454.00,258.00C455.33,252.67 456.67,244.33 458.00,240.00C459.33,235.67 460.67,234.00 462.00,232.00C463.33,230.00 464.67,228.17 466.00,228.00C467.33,227.83 468.67,229.33 470.00,231.00C471.33,232.67 472.33,235.38 474.00,238.00C475.67,240.62 477.68,246.12 480.00,246.70C482.32,247.28 485.25,243.25 487.90,241.50C490.55,239.75 493.25,237.75 495.90,236.20C498.55,234.65 501.17,231.77 503.80,232.20C506.43,232.63 509.05,236.82 511.70,238.80C514.35,240.78 517.05,244.32 519.70,244.10C522.35,243.88 524.95,239.27 527.60,237.50C530.25,235.73 532.95,233.50 535.60,233.50C538.25,233.50 540.87,235.73 543.50,237.50C546.13,239.27 548.75,242.78 551.40,244.10C554.05,245.42 556.75,245.62 559.40,245.40C562.05,245.18 565.43,243.45 567.30,242.80C569.17,242.15 568.28,241.28 570.60,241.50C572.92,241.72 577.68,243.67 581.20,244.10C584.72,244.53 588.18,244.32 591.70,244.10C595.22,243.88 598.77,242.58 602.30,242.80C605.83,243.02 609.37,245.85 612.90,245.40C616.43,244.95 620.42,241.42 623.50,240.10C626.58,238.78 629.42,237.72 631.40,237.50C633.38,237.28 634.73,238.58 635.40,238.80L635.40,266.60C634.73,266.60 633.38,266.82 631.40,266.60C629.42,266.38 626.58,264.87 623.50,265.30C620.42,265.73 616.43,268.10 612.90,269.20C609.37,270.30 605.83,271.90 602.30,271.90C598.77,271.90 595.22,269.87 591.70,269.20C588.18,268.53 584.72,267.45 581.20,267.90C577.68,268.35 572.92,271.45 570.60,271.90C568.28,272.35 569.17,270.38 567.30,270.60C565.43,270.82 562.05,272.55 559.40,273.20C556.75,273.85 554.05,274.72 551.40,274.50C548.75,274.28 546.13,272.55 543.50,271.90C540.87,271.25 538.25,269.95 535.60,270.60C532.95,271.25 530.25,274.70 527.60,275.80C524.95,276.90 522.35,277.85 519.70,277.20C517.05,276.55 514.35,273.67 511.70,271.90C509.05,270.13 506.43,266.82 503.80,266.60C501.17,266.38 498.55,269.07 495.90,270.60C493.25,272.13 490.55,275.57 487.90,275.80C485.25,276.03 481.98,273.63 480.00,272.00C478.02,270.37 477.33,268.33 476.00,266.00C474.67,263.67 473.33,260.33 472.00,258.00C470.67,255.67 469.33,252.67 468.00,252.00C466.67,251.33 465.33,252.33 464.00,254.00C462.67,255.67 461.33,258.33 460.00,262.00C458.67,265.67 457.33,271.00 456.00,276.00C454.67,281.00 453.17,288.00 452.00,292.00C450.83,296.00 450.00,298.33 449.00,300.00C448.00,301.67 447.00,303.00 446.00,302.00C445.00,301.00 444.00,297.67 443.00,294.00C442.00,290.33 441.00,285.33 440.00,280.00C439.00,274.67 438.00,267.83 437.00,262.00C436.00,256.17 435.00,249.33 434.00,245.00C433.00,240.67 432.00,237.50 431.00,236.00C430.00,234.50 429.00,235.00 428.00,236.00C427.00,237.00 425.50,241.00 425.00,242.00Z" fill="rgb(205,190,232)" fill-opacity="0.42"/>
<g stroke="rgb(128,115,175)" stroke-width="1.2" fill="rgb(212,204,232)"><circle cx="409.90" cy="348.80" r="2.6"/><circle cx="411.90" cy="342.90" r="2.6"/><circle cx="412.90" cy="337.00" r="2.6"/><circle cx="413.80" cy="329.10" r="2.6"/><circle cx="414.80" cy="322.20" r="2.6"/><circle cx="415.80" cy="315.40" r="2.6"/><circle cx="416.80" cy="307.50" r="2.6"/><circle cx="417.80" cy="299.60" r="2.6"/><circle cx="418.80" cy="290.80" r="2.6"/><circle cx="419.70" cy="283.90" r="2.6"/><circle cx="421.10" cy="272.90" r="2.6"/><circle cx="422.30" cy="265.00" r="2.6"/><circle cx="422.70" cy="257.20" r="2.6"/><circle cx="422.70" cy="248.30" r="2.6"/><circle cx="423.70" cy="243.40" r="2.6"/><circle cx="424.60" cy="237.50" r="2.6"/><circle cx="425.60" cy="233.60" r="2.6"/><circle cx="426.60" cy="228.70" r="2.6"/><circle cx="428.20" cy="225.80" r="2.6"/><circle cx="429.60" cy="227.70" r="2.6"/><circle cx="431.50" cy="229.70" r="2.6"/><circle cx="433.50" cy="233.60" r="2.6"/><circle cx="435.50" cy="242.50" r="2.6"/><circle cx="437.40" cy="251.30" r="2.6"/><circle cx="439.40" cy="261.10" r="2.6"/><circle cx="440.40" cy="270.90" r="2.6"/><circle cx="441.60" cy="278.00" r="2.6"/><circle cx="443.00" cy="284.50" r="2.6"/><circle cx="445.00" cy="289.50" r="2.6"/><circle cx="447.00" cy="291.50" r="2.6"/><circle cx="449.00" cy="290.00" r="2.6"/><circle cx="451.00" cy="285.00" r="2.6"/><circle cx="452.80" cy="279.00" r="2.6"/><circle cx="454.50" cy="272.00" r="2.6"/><circle cx="456.10" cy="265.00" r="2.6"/><circle cx="458.00" cy="259.20" r="2.6"/><circle cx="460.00" cy="253.30" r="2.6"/><circle cx="462.00" cy="249.30" r="2.6"/><circle cx="463.90" cy="245.40" r="2.6"/><circle cx="465.90" cy="243.40" r="2.6"/><circle cx="467.90" cy="244.40" r="2.6"/><circle cx="470.80" cy="247.40" r="2.6"/><circle cx="473.80" cy="251.30" r="2.6"/><circle cx="476.70" cy="254.20" r="2.6"/><circle cx="479.70" cy="259.20" r="2.6"/><circle cx="481.30" cy="260.00" r="2.6"/><circle cx="484.00" cy="265.30" r="2.6"/><circle cx="487.40" cy="265.30" r="2.6"/><circle cx="491.10" cy="262.60" r="2.6"/><circle cx="494.60" cy="256.00" r="2.6"/><circle cx="498.00" cy="252.00" r="2.6"/><circle cx="501.20" cy="248.90" r="2.6"/><circle cx="505.10" cy="250.70" r="2.6"/><circle cx="510.40" cy="252.00" r="2.6"/><circle cx="514.40" cy="257.30" r="2.6"/><circle cx="518.40" cy="261.30" r="2.6"/><circle cx="522.30" cy="262.60" r="2.6"/><circle cx="527.60" cy="260.00" r="2.6"/><circle cx="532.90" cy="256.00" r="2.6"/><circle cx="538.20" cy="252.00" r="2.6"/><circle cx="542.20" cy="252.00" r="2.6"/><circle cx="547.50" cy="255.20" r="2.6"/><circle cx="551.40" cy="257.30" r="2.6"/><circle cx="556.70" cy="257.90" r="2.6"/><circle cx="561.30" cy="257.90" r="2.6"/><circle cx="565.30" cy="256.00" r="2.6"/><circle cx="570.60" cy="255.20" r="2.6"/><circle cx="575.90" cy="255.20" r="2.6"/><circle cx="581.20" cy="254.70" r="2.6"/><circle cx="586.50" cy="254.70" r="2.6"/><circle cx="590.40" cy="256.00" r="2.6"/><circle cx="595.70" cy="256.80" r="2.6"/><circle cx="599.70" cy="257.30" r="2.6"/><circle cx="603.70" cy="257.30" r="2.6"/><circle cx="608.90" cy="256.80" r="2.6"/><circle cx="615.60" cy="254.70" r="2.6"/><circle cx="622.20" cy="252.00" r="2.6"/><circle cx="628.30" cy="252.00" r="2.6"/><circle cx="634.10" cy="253.40" r="2.6"/></g>
<g stroke="rgb(238,165,45)" stroke-width="1.2" fill="rgb(250,222,150)"><circle cx="412.10" cy="226.60" r="2.6"/><circle cx="413.20" cy="230.10" r="2.6"/><circle cx="414.00" cy="234.20" r="2.6"/><circle cx="414.40" cy="238.00" r="2.6"/><circle cx="414.80" cy="241.50" r="2.6"/><circle cx="415.20" cy="245.00" r="2.6"/><circle cx="415.70" cy="248.50" r="2.6"/><circle cx="416.20" cy="252.00" r="2.6"/><circle cx="416.80" cy="255.50" r="2.6"/><circle cx="417.20" cy="259.20" r="2.6"/><circle cx="417.80" cy="264.10" r="2.6"/><circle cx="418.40" cy="269.00" r="2.6"/><circle cx="418.80" cy="274.90" r="2.6"/><circle cx="419.10" cy="279.80" r="2.6"/><circle cx="419.70" cy="284.70" r="2.6"/><circle cx="419.70" cy="289.80" r="2.6"/><circle cx="420.70" cy="297.70" r="2.6"/><circle cx="421.70" cy="303.60" r="2.6"/><circle cx="422.30" cy="309.50" r="2.6"/><circle cx="422.70" cy="315.40" r="2.6"/><circle cx="423.70" cy="321.30" r="2.6"/><circle cx="424.30" cy="328.10" r="2.6"/><circle cx="425.00" cy="334.00" r="2.6"/><circle cx="426.20" cy="338.90" r="2.6"/><circle cx="427.60" cy="340.90" r="2.6"/><circle cx="428.60" cy="344.80" r="2.6"/><circle cx="429.60" cy="346.80" r="2.6"/><circle cx="430.50" cy="342.90" r="2.6"/><circle cx="431.50" cy="337.00" r="2.6"/><circle cx="432.50" cy="333.00" r="2.6"/><circle cx="433.50" cy="328.10" r="2.6"/><circle cx="434.50" cy="321.30" r="2.6"/><circle cx="435.50" cy="311.40" r="2.6"/><circle cx="436.40" cy="301.60" r="2.6"/><circle cx="437.90" cy="296.00" r="2.6"/><circle cx="439.40" cy="290.80" r="2.6"/><circle cx="440.40" cy="284.90" r="2.6"/><circle cx="442.30" cy="278.80" r="2.6"/><circle cx="444.30" cy="274.90" r="2.6"/><circle cx="446.30" cy="273.50" r="2.6"/><circle cx="448.30" cy="275.00" r="2.6"/><circle cx="450.20" cy="279.00" r="2.6"/><circle cx="451.80" cy="284.00" r="2.6"/><circle cx="453.40" cy="290.00" r="2.6"/><circle cx="455.10" cy="298.70" r="2.6"/><circle cx="456.10" cy="301.60" r="2.6"/><circle cx="457.10" cy="304.60" r="2.6"/><circle cx="459.00" cy="307.50" r="2.6"/><circle cx="461.00" cy="309.50" r="2.6"/><circle cx="463.00" cy="311.40" r="2.6"/><circle cx="464.90" cy="313.40" r="2.6"/><circle cx="466.90" cy="312.40" r="2.6"/><circle cx="468.90" cy="311.40" r="2.6"/><circle cx="471.80" cy="307.50" r="2.6"/><circle cx="473.80" cy="304.60" r="2.6"/><circle cx="476.70" cy="301.60" r="2.6"/><circle cx="479.30" cy="294.70" r="2.6"/><circle cx="482.60" cy="288.80" r="2.6"/><circle cx="484.00" cy="289.10" r="2.6"/><circle cx="487.00" cy="291.50" r="2.6"/><circle cx="490.60" cy="294.40" r="2.6"/><circle cx="494.60" cy="299.70" r="2.6"/><circle cx="498.50" cy="302.30" r="2.6"/><circle cx="502.50" cy="307.60" r="2.6"/><circle cx="506.50" cy="307.60" r="2.6"/><circle cx="510.40" cy="302.30" r="2.6"/><circle cx="514.40" cy="301.00" r="2.6"/><circle cx="518.40" cy="298.30" r="2.6"/><circle cx="522.30" cy="298.30" r="2.6"/><circle cx="527.60" cy="299.10" r="2.6"/><circle cx="532.90" cy="301.00" r="2.6"/><circle cx="538.20" cy="302.30" r="2.6"/><circle cx="543.00" cy="304.40" r="2.6"/><circle cx="547.50" cy="303.60" r="2.6"/><circle cx="551.40" cy="301.00" r="2.6"/><circle cx="556.70" cy="298.30" r="2.6"/><circle cx="561.30" cy="298.30" r="2.6"/><circle cx="566.60" cy="299.10" r="2.6"/><circle cx="571.90" cy="300.20" r="2.6"/><circle cx="577.20" cy="300.20" r="2.6"/><circle cx="581.20" cy="303.60" r="2.6"/><circle cx="586.50" cy="303.60" r="2.6"/><circle cx="591.20" cy="304.40" r="2.6"/><circle cx="595.70" cy="302.30" r="2.6"/><circle cx="599.70" cy="300.20" r="2.6"/><circle cx="603.70" cy="302.30" r="2.6"/><circle cx="608.10" cy="302.80" r="2.6"/><circle cx="612.90" cy="302.30" r="2.6"/><circle cx="616.90" cy="302.30" r="2.6"/><circle cx="620.80" cy="299.70" r="2.6"/><circle cx="624.80" cy="299.70" r="2.6"/><circle cx="628.80" cy="299.10" r="2.6"/><circle cx="632.80" cy="298.30" r="2.6"/><circle cx="636.70" cy="295.70" r="2.6"/></g>
<path d="M409.90,351.70C410.40,349.57 412.08,343.32 412.90,338.90C413.72,334.48 414.15,330.10 414.80,325.20C415.45,320.30 416.13,314.42 416.80,309.50C417.47,304.58 418.18,300.12 418.80,295.70C419.42,291.28 419.85,287.95 420.50,283.00C421.15,278.05 422.02,271.28 422.70,266.00C423.38,260.72 423.95,256.55 424.60,251.30C425.25,246.05 425.93,239.13 426.60,234.50C427.27,229.87 427.95,225.88 428.60,223.50C429.25,221.12 429.85,220.28 430.50,220.20C431.15,220.12 431.83,221.10 432.50,223.00C433.17,224.90 433.85,227.87 434.50,231.60C435.15,235.33 435.75,240.80 436.40,245.40C437.05,250.00 437.73,254.62 438.40,259.20C439.07,263.78 439.75,268.60 440.40,272.90C441.05,277.20 441.62,281.48 442.30,285.00C442.98,288.52 443.80,291.92 444.50,294.00C445.20,296.08 445.83,297.17 446.50,297.50C447.17,297.83 447.75,297.58 448.50,296.00C449.25,294.42 450.07,291.50 451.00,288.00C451.93,284.50 452.93,280.67 454.10,275.00C455.27,269.33 456.68,259.58 458.00,254.00C459.32,248.42 460.68,244.18 462.00,241.50C463.32,238.82 464.60,238.07 465.90,237.90C467.20,237.73 468.48,238.43 469.80,240.50C471.12,242.57 472.48,246.87 473.80,250.30C475.12,253.73 476.40,258.32 477.70,261.10C479.00,263.88 480.33,265.87 481.60,267.00C482.87,268.13 483.58,268.85 485.30,267.90C487.02,266.95 490.12,263.78 491.90,261.30C493.68,258.82 494.68,255.08 496.00,253.00C497.32,250.92 498.63,249.63 499.80,248.80C500.97,247.97 501.88,247.90 503.00,248.00C504.12,248.10 504.60,247.62 506.50,249.40C508.40,251.18 512.40,256.85 514.40,258.70C516.40,260.55 517.18,260.28 518.50,260.50C519.82,260.72 520.33,261.18 522.30,260.00C524.27,258.82 527.65,255.17 530.30,253.40C532.95,251.63 535.57,249.40 538.20,249.40C540.83,249.40 543.45,252.30 546.10,253.40C548.75,254.50 551.45,255.87 554.10,256.00C556.75,256.13 558.82,254.95 562.00,254.20C565.18,253.45 569.12,251.87 573.20,251.50C577.28,251.13 582.08,251.92 586.50,252.00C590.92,252.08 595.30,252.00 599.70,252.00C604.10,252.00 608.50,251.90 612.90,252.00C617.30,252.10 622.25,252.37 626.10,252.60C629.95,252.83 634.35,253.27 636.00,253.40" stroke="rgb(165,65,195)" stroke-width="1.6" fill="none"/>
<path d="M412.00,224.50C412.25,225.33 413.00,227.25 413.50,229.50C414.00,231.75 414.45,234.25 415.00,238.00C415.55,241.75 416.17,246.92 416.80,252.00C417.43,257.08 418.15,263.00 418.80,268.50C419.45,274.00 420.05,278.92 420.70,285.00C421.35,291.08 422.05,298.50 422.70,305.00C423.35,311.50 423.95,318.25 424.60,324.00C425.25,329.75 425.93,335.33 426.60,339.50C427.27,343.67 428.02,347.05 428.60,349.00C429.18,350.95 429.52,351.45 430.10,351.20C430.68,350.95 431.43,350.03 432.10,347.50C432.77,344.97 433.45,340.70 434.10,336.00C434.75,331.30 435.28,325.30 436.00,319.30C436.72,313.30 437.67,305.38 438.40,300.00C439.13,294.62 439.75,290.75 440.40,287.00C441.05,283.25 441.65,280.33 442.30,277.50C442.95,274.67 443.63,271.75 444.30,270.00C444.97,268.25 445.65,267.53 446.30,267.00C446.95,266.47 447.55,266.47 448.20,266.80C448.85,267.13 449.53,267.33 450.20,269.00C450.87,270.67 451.55,273.63 452.20,276.80C452.85,279.97 453.45,284.30 454.10,288.00C454.75,291.70 455.45,295.83 456.10,299.00C456.75,302.17 457.35,304.67 458.00,307.00C458.65,309.33 459.00,311.00 460.00,313.00C461.00,315.00 462.68,318.17 464.00,319.00C465.32,319.83 466.60,319.27 467.90,318.00C469.20,316.73 470.50,313.80 471.80,311.40C473.10,309.00 474.38,306.22 475.70,303.60C477.02,300.98 478.57,297.88 479.70,295.70C480.83,293.52 481.57,291.25 482.50,290.50C483.43,289.75 484.38,290.37 485.30,291.20C486.22,292.03 487.12,294.08 488.00,295.50C488.88,296.92 489.28,298.35 490.60,299.70C491.92,301.05 494.13,303.38 495.90,303.60C497.67,303.82 499.00,302.53 501.20,301.00C503.40,299.47 506.47,296.17 509.10,294.40C511.73,292.63 514.35,290.63 517.00,290.40C519.65,290.17 522.35,291.90 525.00,293.00C527.65,294.10 530.27,296.33 532.90,297.00C535.53,297.67 538.15,297.43 540.80,297.00C543.45,296.57 546.15,295.07 548.80,294.40C551.45,293.73 554.05,293.00 556.70,293.00C559.35,293.00 561.95,293.95 564.70,294.40C567.45,294.85 569.57,295.62 573.20,295.70C576.83,295.78 582.08,294.68 586.50,294.90C590.92,295.12 595.30,296.73 599.70,297.00C604.10,297.27 608.50,296.85 612.90,296.50C617.30,296.15 621.92,295.25 626.10,294.90C630.28,294.55 636.02,294.48 638.00,294.40" stroke="rgb(240,155,70)" stroke-width="1.6" fill="none"/>
</g>
<circle cx="597.7" cy="326.7" r="3.3" stroke="rgb(128,115,175)" stroke-width="2.0" fill="rgb(212,204,232)"/><text x="605.6" y="332.5" font-size="14.5">Φ<tspan font-size="10" dy="3.5">1</tspan></text><circle cx="597.7" cy="344.3" r="3.3" stroke="rgb(238,165,45)" stroke-width="2.0" fill="rgb(250,222,150)"/><text x="605.6" y="350.1" font-size="14.5">Φ<tspan font-size="10" dy="3.5">2</tspan></text>
</svg></body></html>
